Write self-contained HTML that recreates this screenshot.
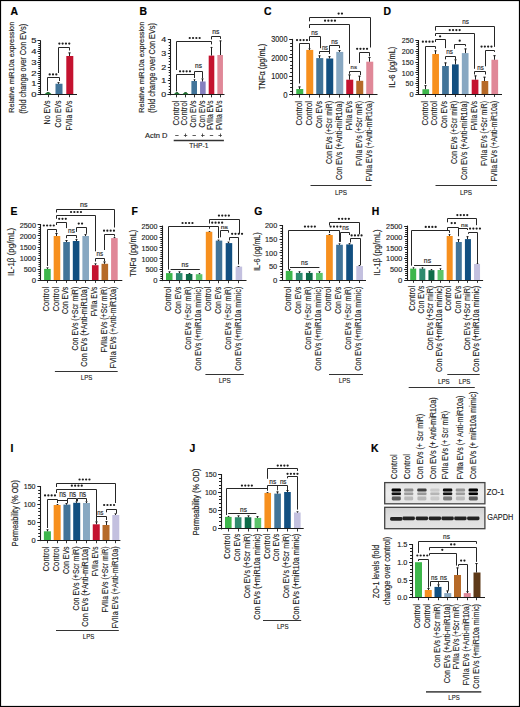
<!DOCTYPE html>
<html><head><meta charset="utf-8"><title>Figure</title>
<style>
html,body{margin:0;padding:0;background:#fff;}
#fig{position:relative;width:520px;height:707px;overflow:hidden;background:#fff;}
svg{position:absolute;left:0;top:0;}
text{font-family:"Liberation Sans",sans-serif;stroke:#1e1e1e;stroke-width:0.15px;paint-order:stroke;}
</style></head><body>
<div id="fig">
<svg width="520" height="707" viewBox="0 0 520 707">
<rect x="0" y="0" width="520" height="707" fill="#fff"/>
<text x="10.4" y="15" font-size="10.4" text-anchor="start" fill="#000" font-weight="bold" style="stroke:#000;stroke-width:0.2px">A</text>
<text transform="translate(13.7 67.3) rotate(-90)" font-size="7.6" text-anchor="middle" fill="#1e1e1e" textLength="91" lengthAdjust="spacingAndGlyphs">Relative miR10a expression</text>
<text transform="translate(25.6 68.8) rotate(-90)" font-size="8.2" text-anchor="middle" fill="#1e1e1e" textLength="89.8" lengthAdjust="spacingAndGlyphs">(fold change over Con EVs)</text>
<line x1="40.5" y1="40.4" x2="40.5" y2="95.1" stroke="#1c1c1c" stroke-width="1.1"/>
<line x1="37.4" y1="94.5" x2="40.6" y2="94.5" stroke="#1c1c1c" stroke-width="1"/>
<text x="36.45" y="97.08" font-size="7.2" text-anchor="end" fill="#1e1e1e" textLength="5.25" lengthAdjust="spacingAndGlyphs">0</text>
<line x1="38.3" y1="92.5" x2="40.6" y2="92.5" stroke="#202020" stroke-width="1"/>
<line x1="38.3" y1="90.5" x2="40.6" y2="90.5" stroke="#202020" stroke-width="1"/>
<line x1="38.3" y1="88.5" x2="40.6" y2="88.5" stroke="#202020" stroke-width="1"/>
<line x1="38.3" y1="86.5" x2="40.6" y2="86.5" stroke="#202020" stroke-width="1"/>
<line x1="37.4" y1="83.5" x2="40.6" y2="83.5" stroke="#1c1c1c" stroke-width="1"/>
<text x="36.45" y="86.36" font-size="7.2" text-anchor="end" fill="#1e1e1e" textLength="5.25" lengthAdjust="spacingAndGlyphs">1</text>
<line x1="38.3" y1="81.5" x2="40.6" y2="81.5" stroke="#202020" stroke-width="1"/>
<line x1="38.3" y1="79.5" x2="40.6" y2="79.5" stroke="#202020" stroke-width="1"/>
<line x1="38.3" y1="77.5" x2="40.6" y2="77.5" stroke="#202020" stroke-width="1"/>
<line x1="38.3" y1="75.5" x2="40.6" y2="75.5" stroke="#202020" stroke-width="1"/>
<line x1="37.4" y1="73.5" x2="40.6" y2="73.5" stroke="#1c1c1c" stroke-width="1"/>
<text x="36.45" y="75.64" font-size="7.2" text-anchor="end" fill="#1e1e1e" textLength="5.25" lengthAdjust="spacingAndGlyphs">2</text>
<line x1="38.3" y1="71.5" x2="40.6" y2="71.5" stroke="#202020" stroke-width="1"/>
<line x1="38.3" y1="68.5" x2="40.6" y2="68.5" stroke="#202020" stroke-width="1"/>
<line x1="38.3" y1="66.5" x2="40.6" y2="66.5" stroke="#202020" stroke-width="1"/>
<line x1="38.3" y1="64.5" x2="40.6" y2="64.5" stroke="#202020" stroke-width="1"/>
<line x1="37.4" y1="62.5" x2="40.6" y2="62.5" stroke="#1c1c1c" stroke-width="1"/>
<text x="36.45" y="64.92" font-size="7.2" text-anchor="end" fill="#1e1e1e" textLength="5.25" lengthAdjust="spacingAndGlyphs">3</text>
<line x1="38.3" y1="60.5" x2="40.6" y2="60.5" stroke="#202020" stroke-width="1"/>
<line x1="38.3" y1="58.5" x2="40.6" y2="58.5" stroke="#202020" stroke-width="1"/>
<line x1="38.3" y1="56.5" x2="40.6" y2="56.5" stroke="#202020" stroke-width="1"/>
<line x1="38.3" y1="53.5" x2="40.6" y2="53.5" stroke="#202020" stroke-width="1"/>
<line x1="37.4" y1="51.5" x2="40.6" y2="51.5" stroke="#1c1c1c" stroke-width="1"/>
<text x="36.45" y="54.2" font-size="7.2" text-anchor="end" fill="#1e1e1e" textLength="5.25" lengthAdjust="spacingAndGlyphs">4</text>
<line x1="38.3" y1="49.5" x2="40.6" y2="49.5" stroke="#202020" stroke-width="1"/>
<line x1="38.3" y1="47.5" x2="40.6" y2="47.5" stroke="#202020" stroke-width="1"/>
<line x1="38.3" y1="45.5" x2="40.6" y2="45.5" stroke="#202020" stroke-width="1"/>
<line x1="38.3" y1="43.5" x2="40.6" y2="43.5" stroke="#202020" stroke-width="1"/>
<line x1="37.4" y1="40.5" x2="40.6" y2="40.5" stroke="#1c1c1c" stroke-width="1"/>
<text x="36.45" y="43.48" font-size="7.2" text-anchor="end" fill="#1e1e1e" textLength="5.25" lengthAdjust="spacingAndGlyphs">5</text>
<rect x="55.5" y="83.75" width="7" height="10.85" fill="#427499"/>
<rect x="66.3" y="56" width="7" height="38.6" fill="#c4122f"/>
<line x1="58.5" y1="82.3" x2="58.5" y2="83.75" stroke="#1e1e1e" stroke-width="1"/>
<path d="M57 82.3H60L58.5 83.55Z" fill="#1e1e1e"/>
<line x1="69.5" y1="52.6" x2="69.5" y2="56" stroke="#1e1e1e" stroke-width="1"/>
<path d="M68 52.6H71L69.5 54.5Z" fill="#1e1e1e"/>
<line x1="38" y1="94.5" x2="77" y2="94.5" stroke="#1c1c1c" stroke-width="1.2"/>
<line x1="48.5" y1="94.6" x2="48.5" y2="97.2" stroke="#1c1c1c" stroke-width="0.9"/>
<line x1="58.5" y1="94.6" x2="58.5" y2="97.2" stroke="#1c1c1c" stroke-width="0.9"/>
<line x1="69.5" y1="94.6" x2="69.5" y2="97.2" stroke="#1c1c1c" stroke-width="0.9"/>
<path d="M44.5 94.2Q46.48 92.11 48.1 92.3 Q49.72 92.11 51.7 94.2Z" fill="#1d7a30"/>
<line x1="46.9" y1="92.5" x2="49.3" y2="92.5" stroke="#1a4a22" stroke-width="0.8"/>
<path d="M47.5 90.9V77.5H59.5V81" fill="none" stroke="#262626" stroke-width="1"/>
<circle cx="49.7" cy="74.4" r="1.12" fill="#1e1e1e"/>
<circle cx="53" cy="74.4" r="1.12" fill="#1e1e1e"/>
<circle cx="56.3" cy="74.4" r="1.12" fill="#1e1e1e"/>
<path d="M58.5 73V47.5H69.5V50.5" fill="none" stroke="#262626" stroke-width="1"/>
<circle cx="59.35" cy="43.6" r="1.12" fill="#1e1e1e"/>
<circle cx="62.65" cy="43.6" r="1.12" fill="#1e1e1e"/>
<circle cx="65.95" cy="43.6" r="1.12" fill="#1e1e1e"/>
<circle cx="69.25" cy="43.6" r="1.12" fill="#1e1e1e"/>
<text transform="translate(49.9 100.6) rotate(-90)" font-size="8.7" text-anchor="end" fill="#1e1e1e" textLength="23.8" lengthAdjust="spacingAndGlyphs">No EVs</text>
<text transform="translate(60.8 100.6) rotate(-90)" font-size="8.7" text-anchor="end" fill="#1e1e1e" textLength="26.9" lengthAdjust="spacingAndGlyphs">Con EVs</text>
<text transform="translate(71.6 100.6) rotate(-90)" font-size="8.7" text-anchor="end" fill="#1e1e1e" textLength="30" lengthAdjust="spacingAndGlyphs">FVIIa EVs</text>
<text x="139.6" y="15" font-size="10.4" text-anchor="start" fill="#000" font-weight="bold" style="stroke:#000;stroke-width:0.2px">B</text>
<text transform="translate(143.7 67.3) rotate(-90)" font-size="7.6" text-anchor="middle" fill="#1e1e1e" textLength="91" lengthAdjust="spacingAndGlyphs">Relative miR10a expression</text>
<text transform="translate(155.4 68) rotate(-90)" font-size="8.2" text-anchor="middle" fill="#1e1e1e" textLength="89.8" lengthAdjust="spacingAndGlyphs">(fold change over Con EVs)</text>
<line x1="170.5" y1="39.6" x2="170.5" y2="95.25" stroke="#1c1c1c" stroke-width="1.1"/>
<line x1="167.8" y1="94.5" x2="171" y2="94.5" stroke="#1c1c1c" stroke-width="1"/>
<text x="166.25" y="97.16" font-size="7" text-anchor="end" fill="#1e1e1e" textLength="4.95" lengthAdjust="spacingAndGlyphs">0</text>
<line x1="168.7" y1="92.5" x2="171" y2="92.5" stroke="#202020" stroke-width="1"/>
<line x1="168.7" y1="89.5" x2="171" y2="89.5" stroke="#202020" stroke-width="1"/>
<line x1="168.7" y1="86.5" x2="171" y2="86.5" stroke="#202020" stroke-width="1"/>
<line x1="168.7" y1="83.5" x2="171" y2="83.5" stroke="#202020" stroke-width="1"/>
<line x1="167.8" y1="80.5" x2="171" y2="80.5" stroke="#1c1c1c" stroke-width="1"/>
<text x="166.25" y="83.41" font-size="7" text-anchor="end" fill="#1e1e1e" textLength="4.95" lengthAdjust="spacingAndGlyphs">1</text>
<line x1="168.7" y1="78.5" x2="171" y2="78.5" stroke="#202020" stroke-width="1"/>
<line x1="168.7" y1="75.5" x2="171" y2="75.5" stroke="#202020" stroke-width="1"/>
<line x1="168.7" y1="72.5" x2="171" y2="72.5" stroke="#202020" stroke-width="1"/>
<line x1="168.7" y1="70.5" x2="171" y2="70.5" stroke="#202020" stroke-width="1"/>
<line x1="167.8" y1="67.5" x2="171" y2="67.5" stroke="#1c1c1c" stroke-width="1"/>
<text x="166.25" y="69.66" font-size="7" text-anchor="end" fill="#1e1e1e" textLength="4.95" lengthAdjust="spacingAndGlyphs">2</text>
<line x1="168.7" y1="64.5" x2="171" y2="64.5" stroke="#202020" stroke-width="1"/>
<line x1="168.7" y1="61.5" x2="171" y2="61.5" stroke="#202020" stroke-width="1"/>
<line x1="168.7" y1="58.5" x2="171" y2="58.5" stroke="#202020" stroke-width="1"/>
<line x1="168.7" y1="56.5" x2="171" y2="56.5" stroke="#202020" stroke-width="1"/>
<line x1="167.8" y1="53.5" x2="171" y2="53.5" stroke="#1c1c1c" stroke-width="1"/>
<text x="166.25" y="55.91" font-size="7" text-anchor="end" fill="#1e1e1e" textLength="4.95" lengthAdjust="spacingAndGlyphs">3</text>
<line x1="168.7" y1="50.5" x2="171" y2="50.5" stroke="#202020" stroke-width="1"/>
<line x1="168.7" y1="48.5" x2="171" y2="48.5" stroke="#202020" stroke-width="1"/>
<line x1="168.7" y1="45.5" x2="171" y2="45.5" stroke="#202020" stroke-width="1"/>
<line x1="168.7" y1="42.5" x2="171" y2="42.5" stroke="#202020" stroke-width="1"/>
<line x1="167.8" y1="39.5" x2="171" y2="39.5" stroke="#1c1c1c" stroke-width="1"/>
<text x="166.25" y="42.16" font-size="7" text-anchor="end" fill="#1e1e1e" textLength="4.95" lengthAdjust="spacingAndGlyphs">4</text>
<rect x="174.1" y="94.75" width="5.6" height="0" fill="#3db64b"/>
<rect x="182.75" y="94.75" width="5.6" height="0" fill="#3db64b"/>
<rect x="191.4" y="81" width="5.6" height="13.75" fill="#427499"/>
<rect x="200.05" y="81.5" width="5.6" height="13.25" fill="#8680bf"/>
<rect x="208.7" y="55.6" width="5.6" height="39.15" fill="#c4122f"/>
<rect x="217.35" y="55" width="5.6" height="39.75" fill="#e08898"/>
<line x1="194.5" y1="79.4" x2="194.5" y2="81" stroke="#1e1e1e" stroke-width="1"/>
<path d="M193.2 79.4H195.8L194.5 80.8Z" fill="#1e1e1e"/>
<line x1="202.5" y1="78.5" x2="202.5" y2="81.5" stroke="#1e1e1e" stroke-width="1"/>
<path d="M201.2 78.5H203.8L202.5 80.4Z" fill="#1e1e1e"/>
<line x1="211.5" y1="46.9" x2="211.5" y2="55.6" stroke="#1e1e1e" stroke-width="1"/>
<path d="M210.2 46.9H212.8L211.5 48.8Z" fill="#1e1e1e"/>
<line x1="220.5" y1="40.6" x2="220.5" y2="55" stroke="#1e1e1e" stroke-width="1"/>
<path d="M219.2 40.6H221.8L220.5 42.5Z" fill="#1e1e1e"/>
<line x1="167.5" y1="94.5" x2="224.5" y2="94.5" stroke="#1c1c1c" stroke-width="1.2"/>
<line x1="176.5" y1="94.75" x2="176.5" y2="97.35" stroke="#1c1c1c" stroke-width="0.9"/>
<line x1="185.5" y1="94.75" x2="185.5" y2="97.35" stroke="#1c1c1c" stroke-width="0.9"/>
<line x1="194.5" y1="94.75" x2="194.5" y2="97.35" stroke="#1c1c1c" stroke-width="0.9"/>
<line x1="202.5" y1="94.75" x2="202.5" y2="97.35" stroke="#1c1c1c" stroke-width="0.9"/>
<line x1="211.5" y1="94.75" x2="211.5" y2="97.35" stroke="#1c1c1c" stroke-width="0.9"/>
<line x1="220.5" y1="94.75" x2="220.5" y2="97.35" stroke="#1c1c1c" stroke-width="0.9"/>
<path d="M173.7 94.35Q175.46 92.26 176.9 92.45 Q178.34 92.26 180.1 94.35Z" fill="#1d7a30"/>
<line x1="175.7" y1="92.5" x2="178.1" y2="92.5" stroke="#1a4a22" stroke-width="0.8"/>
<path d="M182.35 94.35Q184.11 92.26 185.55 92.45 Q186.99 92.26 188.75 94.35Z" fill="#1d7a30"/>
<line x1="184.35" y1="92.5" x2="186.75" y2="92.5" stroke="#1a4a22" stroke-width="0.8"/>
<path d="M176.5 70V41.5H211.5V44.4" fill="none" stroke="#262626" stroke-width="1"/>
<circle cx="189.75" cy="38" r="1.12" fill="#1e1e1e"/>
<circle cx="193.05" cy="38" r="1.12" fill="#1e1e1e"/>
<circle cx="196.35" cy="38" r="1.12" fill="#1e1e1e"/>
<circle cx="199.65" cy="38" r="1.12" fill="#1e1e1e"/>
<path d="M211.5 39.4V36.5H220.5V38.9" fill="none" stroke="#262626" stroke-width="1"/>
<text x="212.3" y="33.6" font-size="7.06" text-anchor="start" fill="#1e1e1e" textLength="7.1" lengthAdjust="spacingAndGlyphs">ns</text>
<path d="M176.5 91.4V74.5H194.5V77.5" fill="none" stroke="#262626" stroke-width="1"/>
<circle cx="180.05" cy="71.3" r="1.12" fill="#1e1e1e"/>
<circle cx="183.35" cy="71.3" r="1.12" fill="#1e1e1e"/>
<circle cx="186.65" cy="71.3" r="1.12" fill="#1e1e1e"/>
<circle cx="189.95" cy="71.3" r="1.12" fill="#1e1e1e"/>
<path d="M194.5 78V71.5H202.5V78" fill="none" stroke="#262626" stroke-width="1"/>
<text x="195" y="68.2" font-size="6.32" text-anchor="start" fill="#1e1e1e" textLength="6.9" lengthAdjust="spacingAndGlyphs">ns</text>
<text transform="translate(178.7 100.6) rotate(-90)" font-size="8.7" text-anchor="end" fill="#1e1e1e" textLength="24.9" lengthAdjust="spacingAndGlyphs">Control</text>
<text transform="translate(187.35 100.6) rotate(-90)" font-size="8.7" text-anchor="end" fill="#1e1e1e" textLength="24.9" lengthAdjust="spacingAndGlyphs">Control</text>
<text transform="translate(196 100.6) rotate(-90)" font-size="8.7" text-anchor="end" fill="#1e1e1e" textLength="26.9" lengthAdjust="spacingAndGlyphs">Con EVs</text>
<text transform="translate(204.65 100.6) rotate(-90)" font-size="8.7" text-anchor="end" fill="#1e1e1e" textLength="26.9" lengthAdjust="spacingAndGlyphs">Con EVs</text>
<text transform="translate(213.3 100.6) rotate(-90)" font-size="8.7" text-anchor="end" fill="#1e1e1e" textLength="29.4" lengthAdjust="spacingAndGlyphs">FVIIa EVs</text>
<text transform="translate(221.95 100.6) rotate(-90)" font-size="8.7" text-anchor="end" fill="#1e1e1e" textLength="29.4" lengthAdjust="spacingAndGlyphs">FVIIa EVs</text>
<text x="145" y="137.6" font-size="7.2" text-anchor="start" fill="#1e1e1e" textLength="22.5" lengthAdjust="spacingAndGlyphs">Actn D</text>
<line x1="175.2" y1="135.5" x2="178.6" y2="135.5" stroke="#333" stroke-width="0.8"/>
<line x1="183.85" y1="135.5" x2="187.25" y2="135.5" stroke="#333" stroke-width="0.8"/>
<line x1="185.5" y1="133.5" x2="185.5" y2="136.9" stroke="#333" stroke-width="0.8"/>
<line x1="192.5" y1="135.5" x2="195.9" y2="135.5" stroke="#333" stroke-width="0.8"/>
<line x1="201.15" y1="135.5" x2="204.55" y2="135.5" stroke="#333" stroke-width="0.8"/>
<line x1="202.5" y1="133.5" x2="202.5" y2="136.9" stroke="#333" stroke-width="0.8"/>
<line x1="209.8" y1="135.5" x2="213.2" y2="135.5" stroke="#333" stroke-width="0.8"/>
<line x1="218.45" y1="135.5" x2="221.85" y2="135.5" stroke="#333" stroke-width="0.8"/>
<line x1="220.5" y1="133.5" x2="220.5" y2="136.9" stroke="#333" stroke-width="0.8"/>
<line x1="173.7" y1="140.5" x2="223.9" y2="140.5" stroke="#333" stroke-width="1.3"/>
<text x="198.8" y="147.9" font-size="7.6" text-anchor="middle" fill="#1e1e1e" textLength="19" lengthAdjust="spacingAndGlyphs">THP-1</text>
<text x="264" y="15.2" font-size="10.4" text-anchor="start" fill="#000" font-weight="bold" style="stroke:#000;stroke-width:0.2px">C</text>
<text transform="translate(264.9 66.9) rotate(-90)" font-size="8.2" text-anchor="middle" fill="#1e1e1e" textLength="46" lengthAdjust="spacingAndGlyphs">TNFα (pg/mL)</text>
<line x1="292.5" y1="38.9" x2="292.5" y2="95.45" stroke="#1c1c1c" stroke-width="1.1"/>
<line x1="289.2" y1="94.5" x2="292.4" y2="94.5" stroke="#1c1c1c" stroke-width="1"/>
<text x="287.45" y="97.91" font-size="8.6" text-anchor="end" fill="#1e1e1e" textLength="4.3" lengthAdjust="spacingAndGlyphs">0</text>
<line x1="290.1" y1="91.5" x2="292.4" y2="91.5" stroke="#202020" stroke-width="1"/>
<line x1="290.1" y1="87.5" x2="292.4" y2="87.5" stroke="#202020" stroke-width="1"/>
<line x1="290.1" y1="83.5" x2="292.4" y2="83.5" stroke="#202020" stroke-width="1"/>
<line x1="290.1" y1="80.5" x2="292.4" y2="80.5" stroke="#202020" stroke-width="1"/>
<line x1="289.2" y1="76.5" x2="292.4" y2="76.5" stroke="#1c1c1c" stroke-width="1"/>
<text x="287.45" y="79.36" font-size="8.6" text-anchor="end" fill="#1e1e1e" textLength="16.15" lengthAdjust="spacingAndGlyphs">1000</text>
<line x1="290.1" y1="72.5" x2="292.4" y2="72.5" stroke="#202020" stroke-width="1"/>
<line x1="290.1" y1="68.5" x2="292.4" y2="68.5" stroke="#202020" stroke-width="1"/>
<line x1="290.1" y1="65.5" x2="292.4" y2="65.5" stroke="#202020" stroke-width="1"/>
<line x1="290.1" y1="61.5" x2="292.4" y2="61.5" stroke="#202020" stroke-width="1"/>
<line x1="289.2" y1="57.5" x2="292.4" y2="57.5" stroke="#1c1c1c" stroke-width="1"/>
<text x="287.45" y="60.81" font-size="8.6" text-anchor="end" fill="#1e1e1e" textLength="16.15" lengthAdjust="spacingAndGlyphs">2000</text>
<line x1="290.1" y1="54.5" x2="292.4" y2="54.5" stroke="#202020" stroke-width="1"/>
<line x1="290.1" y1="50.5" x2="292.4" y2="50.5" stroke="#202020" stroke-width="1"/>
<line x1="290.1" y1="46.5" x2="292.4" y2="46.5" stroke="#202020" stroke-width="1"/>
<line x1="290.1" y1="43.5" x2="292.4" y2="43.5" stroke="#202020" stroke-width="1"/>
<line x1="289.2" y1="39.5" x2="292.4" y2="39.5" stroke="#1c1c1c" stroke-width="1"/>
<text x="287.45" y="42.26" font-size="8.6" text-anchor="end" fill="#1e1e1e" textLength="16.15" lengthAdjust="spacingAndGlyphs">3000</text>
<rect x="296.25" y="89" width="7" height="5.95" fill="#3db64b"/>
<rect x="306.25" y="49.9" width="7" height="45.05" fill="#f7901e"/>
<rect x="316.25" y="58.1" width="7" height="36.85" fill="#427499"/>
<rect x="326.25" y="58.5" width="7" height="36.45" fill="#124f80"/>
<rect x="336.25" y="51.9" width="7" height="43.05" fill="#88a8c2"/>
<rect x="346.25" y="79.7" width="7" height="15.25" fill="#c4122f"/>
<rect x="356.25" y="80.8" width="7" height="14.15" fill="#b66a28"/>
<rect x="366.25" y="61.7" width="7" height="33.25" fill="#e08898"/>
<line x1="299.5" y1="86.5" x2="299.5" y2="89" stroke="#1e1e1e" stroke-width="1"/>
<path d="M298 86.5H301L299.5 88.4Z" fill="#1e1e1e"/>
<line x1="309.5" y1="48.6" x2="309.5" y2="49.9" stroke="#1e1e1e" stroke-width="1"/>
<path d="M308 48.6H311L309.5 49.7Z" fill="#1e1e1e"/>
<line x1="319.5" y1="55.4" x2="319.5" y2="58.1" stroke="#1e1e1e" stroke-width="1"/>
<path d="M318 55.4H321L319.5 57.3Z" fill="#1e1e1e"/>
<line x1="329.5" y1="56.2" x2="329.5" y2="58.5" stroke="#1e1e1e" stroke-width="1"/>
<path d="M328 56.2H331L329.5 58.1Z" fill="#1e1e1e"/>
<line x1="339.5" y1="50" x2="339.5" y2="51.9" stroke="#1e1e1e" stroke-width="1"/>
<path d="M338 50H341L339.5 51.7Z" fill="#1e1e1e"/>
<line x1="349.5" y1="74.6" x2="349.5" y2="79.7" stroke="#1e1e1e" stroke-width="1"/>
<path d="M348 74.6H351L349.5 76.5Z" fill="#1e1e1e"/>
<line x1="359.5" y1="75.8" x2="359.5" y2="80.8" stroke="#1e1e1e" stroke-width="1"/>
<path d="M358 75.8H361L359.5 77.7Z" fill="#1e1e1e"/>
<line x1="369.5" y1="56.9" x2="369.5" y2="61.7" stroke="#1e1e1e" stroke-width="1"/>
<path d="M368 56.9H371L369.5 58.8Z" fill="#1e1e1e"/>
<line x1="290.5" y1="94.5" x2="377.5" y2="94.5" stroke="#1c1c1c" stroke-width="1.2"/>
<line x1="299.5" y1="94.95" x2="299.5" y2="97.55" stroke="#1c1c1c" stroke-width="0.9"/>
<line x1="309.5" y1="94.95" x2="309.5" y2="97.55" stroke="#1c1c1c" stroke-width="0.9"/>
<line x1="319.5" y1="94.95" x2="319.5" y2="97.55" stroke="#1c1c1c" stroke-width="0.9"/>
<line x1="329.5" y1="94.95" x2="329.5" y2="97.55" stroke="#1c1c1c" stroke-width="0.9"/>
<line x1="339.5" y1="94.95" x2="339.5" y2="97.55" stroke="#1c1c1c" stroke-width="0.9"/>
<line x1="349.5" y1="94.95" x2="349.5" y2="97.55" stroke="#1c1c1c" stroke-width="0.9"/>
<line x1="359.5" y1="94.95" x2="359.5" y2="97.55" stroke="#1c1c1c" stroke-width="0.9"/>
<line x1="369.5" y1="94.95" x2="369.5" y2="97.55" stroke="#1c1c1c" stroke-width="0.9"/>
<path d="M309.5 21.3V17.5H370.5V47.5" fill="none" stroke="#262626" stroke-width="1"/>
<circle cx="338.65" cy="13.6" r="1.12" fill="#1e1e1e"/>
<circle cx="341.95" cy="13.6" r="1.12" fill="#1e1e1e"/>
<path d="M309.5 28V24.5H349.5V63.8" fill="none" stroke="#262626" stroke-width="1"/>
<circle cx="325.05" cy="20.7" r="1.12" fill="#1e1e1e"/>
<circle cx="328.35" cy="20.7" r="1.12" fill="#1e1e1e"/>
<circle cx="331.65" cy="20.7" r="1.12" fill="#1e1e1e"/>
<circle cx="334.95" cy="20.7" r="1.12" fill="#1e1e1e"/>
<path d="M309.5 41V36.5H320.5V48.2" fill="none" stroke="#262626" stroke-width="1"/>
<text x="311.3" y="34.7" font-size="7.62" text-anchor="start" fill="#1e1e1e" textLength="6.7" lengthAdjust="spacingAndGlyphs">ns</text>
<path d="M299.5 83.5V43.5H309.5V48.7" fill="none" stroke="#262626" stroke-width="1"/>
<circle cx="297.05" cy="40.1" r="1.12" fill="#1e1e1e"/>
<circle cx="300.35" cy="40.1" r="1.12" fill="#1e1e1e"/>
<circle cx="303.65" cy="40.1" r="1.12" fill="#1e1e1e"/>
<circle cx="306.95" cy="40.1" r="1.12" fill="#1e1e1e"/>
<path d="M319.5 54V51.5H329.5V54" fill="none" stroke="#262626" stroke-width="1"/>
<text x="321.9" y="49.7" font-size="7.62" text-anchor="start" fill="#1e1e1e" textLength="6.1" lengthAdjust="spacingAndGlyphs">ns</text>
<path d="M329.5 51.9V45.5H339.5V48.2" fill="none" stroke="#262626" stroke-width="1"/>
<text x="331.3" y="43.8" font-size="7.06" text-anchor="start" fill="#1e1e1e" textLength="6.7" lengthAdjust="spacingAndGlyphs">ns</text>
<path d="M359.5 63V52.5H369.5V56.3" fill="none" stroke="#262626" stroke-width="1"/>
<circle cx="357.15" cy="48.8" r="1.12" fill="#1e1e1e"/>
<circle cx="360.45" cy="48.8" r="1.12" fill="#1e1e1e"/>
<circle cx="363.75" cy="48.8" r="1.12" fill="#1e1e1e"/>
<circle cx="367.05" cy="48.8" r="1.12" fill="#1e1e1e"/>
<path d="M349.5 73.8V71.5H360.5V75" fill="none" stroke="#262626" stroke-width="1"/>
<text x="350.6" y="68.6" font-size="6.13" text-anchor="start" fill="#1e1e1e" textLength="6.3" lengthAdjust="spacingAndGlyphs">ns</text>
<text transform="translate(301.55 101) rotate(-90)" font-size="8.7" text-anchor="end" fill="#1e1e1e" textLength="24.6" lengthAdjust="spacingAndGlyphs">Control</text>
<text transform="translate(311.55 101) rotate(-90)" font-size="8.7" text-anchor="end" fill="#1e1e1e" textLength="24.6" lengthAdjust="spacingAndGlyphs">Control</text>
<text transform="translate(321.55 101) rotate(-90)" font-size="8.7" text-anchor="end" fill="#1e1e1e" textLength="27" lengthAdjust="spacingAndGlyphs">Con EVs</text>
<text transform="translate(331.55 101) rotate(-90)" font-size="8.7" text-anchor="end" fill="#1e1e1e" textLength="63" lengthAdjust="spacingAndGlyphs">Con EVs (+Scr miR)</text>
<text transform="translate(341.55 101) rotate(-90)" font-size="8.7" text-anchor="end" fill="#1e1e1e" textLength="79" lengthAdjust="spacingAndGlyphs">Con EVs (+Anti-miR10a)</text>
<text transform="translate(351.55 101) rotate(-90)" font-size="8.7" text-anchor="end" fill="#1e1e1e" textLength="29.2" lengthAdjust="spacingAndGlyphs">FVIIa EVs</text>
<text transform="translate(361.55 101) rotate(-90)" font-size="8.7" text-anchor="end" fill="#1e1e1e" textLength="65" lengthAdjust="spacingAndGlyphs">FVIIa EVs (+Scr miR)</text>
<text transform="translate(371.55 101) rotate(-90)" font-size="8.7" text-anchor="end" fill="#1e1e1e" textLength="80.5" lengthAdjust="spacingAndGlyphs">FVIIa EVs (+Anti-miR10a)</text>
<line x1="310.5" y1="185.5" x2="371.5" y2="185.5" stroke="#333" stroke-width="1"/>
<text x="341" y="194.6" font-size="7.8" text-anchor="middle" fill="#1e1e1e" textLength="12" lengthAdjust="spacingAndGlyphs">LPS</text>
<text x="383.6" y="15" font-size="10.4" text-anchor="start" fill="#000" font-weight="bold" style="stroke:#000;stroke-width:0.2px">D</text>
<text transform="translate(395 67.15) rotate(-90)" font-size="8.4" text-anchor="middle" fill="#1e1e1e" textLength="41" lengthAdjust="spacingAndGlyphs">IL-6 (pg/mL)</text>
<line x1="418.5" y1="40" x2="418.5" y2="94.8" stroke="#1c1c1c" stroke-width="1.1"/>
<line x1="415.4" y1="94.5" x2="418.6" y2="94.5" stroke="#1c1c1c" stroke-width="1"/>
<text x="413.55" y="97.02" font-size="7.9" text-anchor="end" fill="#1e1e1e" textLength="4.15" lengthAdjust="spacingAndGlyphs">0</text>
<line x1="416.3" y1="92.5" x2="418.6" y2="92.5" stroke="#202020" stroke-width="1"/>
<line x1="416.3" y1="90.5" x2="418.6" y2="90.5" stroke="#202020" stroke-width="1"/>
<line x1="416.3" y1="87.5" x2="418.6" y2="87.5" stroke="#202020" stroke-width="1"/>
<line x1="416.3" y1="85.5" x2="418.6" y2="85.5" stroke="#202020" stroke-width="1"/>
<line x1="415.4" y1="83.5" x2="418.6" y2="83.5" stroke="#1c1c1c" stroke-width="1"/>
<text x="413.55" y="86.27" font-size="7.9" text-anchor="end" fill="#1e1e1e" textLength="7.95" lengthAdjust="spacingAndGlyphs">50</text>
<line x1="416.3" y1="81.5" x2="418.6" y2="81.5" stroke="#202020" stroke-width="1"/>
<line x1="416.3" y1="79.5" x2="418.6" y2="79.5" stroke="#202020" stroke-width="1"/>
<line x1="416.3" y1="77.5" x2="418.6" y2="77.5" stroke="#202020" stroke-width="1"/>
<line x1="416.3" y1="74.5" x2="418.6" y2="74.5" stroke="#202020" stroke-width="1"/>
<line x1="415.4" y1="72.5" x2="418.6" y2="72.5" stroke="#1c1c1c" stroke-width="1"/>
<text x="413.55" y="75.52" font-size="7.9" text-anchor="end" fill="#1e1e1e" textLength="11.75" lengthAdjust="spacingAndGlyphs">100</text>
<line x1="416.3" y1="70.5" x2="418.6" y2="70.5" stroke="#202020" stroke-width="1"/>
<line x1="416.3" y1="68.5" x2="418.6" y2="68.5" stroke="#202020" stroke-width="1"/>
<line x1="416.3" y1="66.5" x2="418.6" y2="66.5" stroke="#202020" stroke-width="1"/>
<line x1="416.3" y1="64.5" x2="418.6" y2="64.5" stroke="#202020" stroke-width="1"/>
<line x1="415.4" y1="62.5" x2="418.6" y2="62.5" stroke="#1c1c1c" stroke-width="1"/>
<text x="413.55" y="64.77" font-size="7.9" text-anchor="end" fill="#1e1e1e" textLength="11.75" lengthAdjust="spacingAndGlyphs">150</text>
<line x1="416.3" y1="59.5" x2="418.6" y2="59.5" stroke="#202020" stroke-width="1"/>
<line x1="416.3" y1="57.5" x2="418.6" y2="57.5" stroke="#202020" stroke-width="1"/>
<line x1="416.3" y1="55.5" x2="418.6" y2="55.5" stroke="#202020" stroke-width="1"/>
<line x1="416.3" y1="53.5" x2="418.6" y2="53.5" stroke="#202020" stroke-width="1"/>
<line x1="415.4" y1="51.5" x2="418.6" y2="51.5" stroke="#1c1c1c" stroke-width="1"/>
<text x="413.55" y="54.02" font-size="7.9" text-anchor="end" fill="#1e1e1e" textLength="11.75" lengthAdjust="spacingAndGlyphs">200</text>
<line x1="416.3" y1="49.5" x2="418.6" y2="49.5" stroke="#202020" stroke-width="1"/>
<line x1="416.3" y1="46.5" x2="418.6" y2="46.5" stroke="#202020" stroke-width="1"/>
<line x1="416.3" y1="44.5" x2="418.6" y2="44.5" stroke="#202020" stroke-width="1"/>
<line x1="416.3" y1="42.5" x2="418.6" y2="42.5" stroke="#202020" stroke-width="1"/>
<line x1="415.4" y1="40.5" x2="418.6" y2="40.5" stroke="#1c1c1c" stroke-width="1"/>
<text x="413.55" y="43.27" font-size="7.9" text-anchor="end" fill="#1e1e1e" textLength="11.75" lengthAdjust="spacingAndGlyphs">250</text>
<rect x="422.4" y="89.25" width="6.7" height="5.05" fill="#3db64b"/>
<rect x="432.26" y="54" width="6.7" height="40.3" fill="#f7901e"/>
<rect x="442.12" y="66" width="6.7" height="28.3" fill="#427499"/>
<rect x="451.98" y="64.4" width="6.7" height="29.9" fill="#124f80"/>
<rect x="461.84" y="53.1" width="6.7" height="41.2" fill="#88a8c2"/>
<rect x="471.7" y="79.7" width="6.7" height="14.6" fill="#c4122f"/>
<rect x="481.56" y="81" width="6.7" height="13.3" fill="#b66a28"/>
<rect x="491.42" y="59.75" width="6.7" height="34.55" fill="#e08898"/>
<line x1="425.5" y1="85.2" x2="425.5" y2="89.25" stroke="#1e1e1e" stroke-width="1"/>
<path d="M424 85.2H427L425.5 87.1Z" fill="#1e1e1e"/>
<line x1="435.5" y1="50.4" x2="435.5" y2="54" stroke="#1e1e1e" stroke-width="1"/>
<path d="M434 50.4H437L435.5 52.3Z" fill="#1e1e1e"/>
<line x1="445.5" y1="62.5" x2="445.5" y2="66" stroke="#1e1e1e" stroke-width="1"/>
<path d="M444 62.5H447L445.5 64.4Z" fill="#1e1e1e"/>
<line x1="455.5" y1="59.4" x2="455.5" y2="64.4" stroke="#1e1e1e" stroke-width="1"/>
<path d="M454 59.4H457L455.5 61.3Z" fill="#1e1e1e"/>
<line x1="465.5" y1="48.5" x2="465.5" y2="53.1" stroke="#1e1e1e" stroke-width="1"/>
<path d="M464 48.5H467L465.5 50.4Z" fill="#1e1e1e"/>
<line x1="475.5" y1="75.5" x2="475.5" y2="79.7" stroke="#1e1e1e" stroke-width="1"/>
<path d="M474 75.5H477L475.5 77.4Z" fill="#1e1e1e"/>
<line x1="484.5" y1="76.8" x2="484.5" y2="81" stroke="#1e1e1e" stroke-width="1"/>
<path d="M483 76.8H486L484.5 78.7Z" fill="#1e1e1e"/>
<line x1="494.5" y1="55.25" x2="494.5" y2="59.75" stroke="#1e1e1e" stroke-width="1"/>
<path d="M493 55.25H496L494.5 57.15Z" fill="#1e1e1e"/>
<line x1="417" y1="94.5" x2="502" y2="94.5" stroke="#1c1c1c" stroke-width="1.2"/>
<line x1="425.5" y1="94.3" x2="425.5" y2="96.9" stroke="#1c1c1c" stroke-width="0.9"/>
<line x1="435.5" y1="94.3" x2="435.5" y2="96.9" stroke="#1c1c1c" stroke-width="0.9"/>
<line x1="445.5" y1="94.3" x2="445.5" y2="96.9" stroke="#1c1c1c" stroke-width="0.9"/>
<line x1="455.5" y1="94.3" x2="455.5" y2="96.9" stroke="#1c1c1c" stroke-width="0.9"/>
<line x1="465.5" y1="94.3" x2="465.5" y2="96.9" stroke="#1c1c1c" stroke-width="0.9"/>
<line x1="475.5" y1="94.3" x2="475.5" y2="96.9" stroke="#1c1c1c" stroke-width="0.9"/>
<line x1="484.5" y1="94.3" x2="484.5" y2="96.9" stroke="#1c1c1c" stroke-width="0.9"/>
<line x1="494.5" y1="94.3" x2="494.5" y2="96.9" stroke="#1c1c1c" stroke-width="0.9"/>
<path d="M435.5 30.6V26.5H494.5V46.9" fill="none" stroke="#262626" stroke-width="1"/>
<text x="462.3" y="24.4" font-size="7.62" text-anchor="start" fill="#1e1e1e" textLength="6.7" lengthAdjust="spacingAndGlyphs">ns</text>
<path d="M435.5 36V33.5H474.5V68.8" fill="none" stroke="#262626" stroke-width="1"/>
<circle cx="449.75" cy="30.1" r="1.12" fill="#1e1e1e"/>
<circle cx="453.05" cy="30.1" r="1.12" fill="#1e1e1e"/>
<circle cx="456.35" cy="30.1" r="1.12" fill="#1e1e1e"/>
<circle cx="459.65" cy="30.1" r="1.12" fill="#1e1e1e"/>
<path d="M435.5 42V39.5H445.5V48.1" fill="none" stroke="#262626" stroke-width="1"/>
<circle cx="440.1" cy="36.3" r="1.12" fill="#1e1e1e"/>
<path d="M425.5 84V46.5H435.5V48.8" fill="none" stroke="#262626" stroke-width="1"/>
<circle cx="422.85" cy="41.7" r="1.12" fill="#1e1e1e"/>
<circle cx="426.15" cy="41.7" r="1.12" fill="#1e1e1e"/>
<circle cx="429.45" cy="41.7" r="1.12" fill="#1e1e1e"/>
<circle cx="432.75" cy="41.7" r="1.12" fill="#1e1e1e"/>
<path d="M445.5 59.4V56.5H455.5V59.4" fill="none" stroke="#262626" stroke-width="1"/>
<text x="446.3" y="53.8" font-size="7.06" text-anchor="start" fill="#1e1e1e" textLength="6.7" lengthAdjust="spacingAndGlyphs">ns</text>
<path d="M454.5 48.8V44.5H465.5V46.3" fill="none" stroke="#262626" stroke-width="1"/>
<circle cx="459.7" cy="40.7" r="1.12" fill="#1e1e1e"/>
<path d="M485.5 66.3V50.5H494.5V51.9" fill="none" stroke="#262626" stroke-width="1"/>
<circle cx="481.55" cy="46.6" r="1.12" fill="#1e1e1e"/>
<circle cx="484.85" cy="46.6" r="1.12" fill="#1e1e1e"/>
<circle cx="488.15" cy="46.6" r="1.12" fill="#1e1e1e"/>
<circle cx="491.45" cy="46.6" r="1.12" fill="#1e1e1e"/>
<path d="M474.5 74.5V71.5H485.5V74.5" fill="none" stroke="#262626" stroke-width="1"/>
<text x="477.3" y="69.8" font-size="6.51" text-anchor="start" fill="#1e1e1e" textLength="6.5" lengthAdjust="spacingAndGlyphs">ns</text>
<text transform="translate(427.55 101) rotate(-90)" font-size="8.7" text-anchor="end" fill="#1e1e1e" textLength="24.6" lengthAdjust="spacingAndGlyphs">Control</text>
<text transform="translate(437.41 101) rotate(-90)" font-size="8.7" text-anchor="end" fill="#1e1e1e" textLength="24.6" lengthAdjust="spacingAndGlyphs">Control</text>
<text transform="translate(447.27 101) rotate(-90)" font-size="8.7" text-anchor="end" fill="#1e1e1e" textLength="27" lengthAdjust="spacingAndGlyphs">Con EVs</text>
<text transform="translate(457.13 101) rotate(-90)" font-size="8.7" text-anchor="end" fill="#1e1e1e" textLength="63" lengthAdjust="spacingAndGlyphs">Con EVs (+Scr miR)</text>
<text transform="translate(466.99 101) rotate(-90)" font-size="8.7" text-anchor="end" fill="#1e1e1e" textLength="79" lengthAdjust="spacingAndGlyphs">Con EVs (+Anti-miR10a)</text>
<text transform="translate(476.85 101) rotate(-90)" font-size="8.7" text-anchor="end" fill="#1e1e1e" textLength="29.2" lengthAdjust="spacingAndGlyphs">FVIIa EVs</text>
<text transform="translate(486.71 101) rotate(-90)" font-size="8.7" text-anchor="end" fill="#1e1e1e" textLength="65" lengthAdjust="spacingAndGlyphs">FVIIa EVs (+Scr miR)</text>
<text transform="translate(496.57 101) rotate(-90)" font-size="8.7" text-anchor="end" fill="#1e1e1e" textLength="80.5" lengthAdjust="spacingAndGlyphs">FVIIa EVs (+Anti-miR10a)</text>
<line x1="435.5" y1="185.5" x2="497" y2="185.5" stroke="#333" stroke-width="1"/>
<text x="466" y="194.6" font-size="7.8" text-anchor="middle" fill="#1e1e1e" textLength="12" lengthAdjust="spacingAndGlyphs">LPS</text>
<text x="10.6" y="214.8" font-size="10.4" text-anchor="start" fill="#000" font-weight="bold" style="stroke:#000;stroke-width:0.2px">E</text>
<text transform="translate(14.1 251.9) rotate(-90)" font-size="8.4" text-anchor="middle" fill="#1e1e1e" textLength="48" lengthAdjust="spacingAndGlyphs">IL-1β (pg/mL)</text>
<line x1="40.5" y1="224" x2="40.5" y2="280.8" stroke="#1c1c1c" stroke-width="1.1"/>
<line x1="37.6" y1="280.5" x2="40.8" y2="280.5" stroke="#1c1c1c" stroke-width="1"/>
<text x="35.95" y="283.05" font-size="8" text-anchor="end" fill="#1e1e1e" textLength="4.3" lengthAdjust="spacingAndGlyphs">0</text>
<line x1="38.5" y1="278.5" x2="40.8" y2="278.5" stroke="#202020" stroke-width="1"/>
<line x1="38.5" y1="275.5" x2="40.8" y2="275.5" stroke="#202020" stroke-width="1"/>
<line x1="38.5" y1="273.5" x2="40.8" y2="273.5" stroke="#202020" stroke-width="1"/>
<line x1="38.5" y1="271.5" x2="40.8" y2="271.5" stroke="#202020" stroke-width="1"/>
<line x1="37.6" y1="269.5" x2="40.8" y2="269.5" stroke="#1c1c1c" stroke-width="1"/>
<text x="35.95" y="271.96" font-size="8" text-anchor="end" fill="#1e1e1e" textLength="12.2" lengthAdjust="spacingAndGlyphs">500</text>
<line x1="38.5" y1="266.5" x2="40.8" y2="266.5" stroke="#202020" stroke-width="1"/>
<line x1="38.5" y1="264.5" x2="40.8" y2="264.5" stroke="#202020" stroke-width="1"/>
<line x1="38.5" y1="262.5" x2="40.8" y2="262.5" stroke="#202020" stroke-width="1"/>
<line x1="38.5" y1="260.5" x2="40.8" y2="260.5" stroke="#202020" stroke-width="1"/>
<line x1="37.6" y1="258.5" x2="40.8" y2="258.5" stroke="#1c1c1c" stroke-width="1"/>
<text x="35.95" y="260.87" font-size="8" text-anchor="end" fill="#1e1e1e" textLength="16.15" lengthAdjust="spacingAndGlyphs">1000</text>
<line x1="38.5" y1="255.5" x2="40.8" y2="255.5" stroke="#202020" stroke-width="1"/>
<line x1="38.5" y1="253.5" x2="40.8" y2="253.5" stroke="#202020" stroke-width="1"/>
<line x1="38.5" y1="251.5" x2="40.8" y2="251.5" stroke="#202020" stroke-width="1"/>
<line x1="38.5" y1="249.5" x2="40.8" y2="249.5" stroke="#202020" stroke-width="1"/>
<line x1="37.6" y1="247.5" x2="40.8" y2="247.5" stroke="#1c1c1c" stroke-width="1"/>
<text x="35.95" y="249.78" font-size="8" text-anchor="end" fill="#1e1e1e" textLength="16.15" lengthAdjust="spacingAndGlyphs">1500</text>
<line x1="38.5" y1="244.5" x2="40.8" y2="244.5" stroke="#202020" stroke-width="1"/>
<line x1="38.5" y1="242.5" x2="40.8" y2="242.5" stroke="#202020" stroke-width="1"/>
<line x1="38.5" y1="240.5" x2="40.8" y2="240.5" stroke="#202020" stroke-width="1"/>
<line x1="38.5" y1="238.5" x2="40.8" y2="238.5" stroke="#202020" stroke-width="1"/>
<line x1="37.6" y1="235.5" x2="40.8" y2="235.5" stroke="#1c1c1c" stroke-width="1"/>
<text x="35.95" y="238.69" font-size="8" text-anchor="end" fill="#1e1e1e" textLength="16.15" lengthAdjust="spacingAndGlyphs">2000</text>
<line x1="38.5" y1="233.5" x2="40.8" y2="233.5" stroke="#202020" stroke-width="1"/>
<line x1="38.5" y1="231.5" x2="40.8" y2="231.5" stroke="#202020" stroke-width="1"/>
<line x1="38.5" y1="229.5" x2="40.8" y2="229.5" stroke="#202020" stroke-width="1"/>
<line x1="38.5" y1="227.5" x2="40.8" y2="227.5" stroke="#202020" stroke-width="1"/>
<line x1="37.6" y1="224.5" x2="40.8" y2="224.5" stroke="#1c1c1c" stroke-width="1"/>
<text x="35.95" y="227.6" font-size="8" text-anchor="end" fill="#1e1e1e" textLength="16.15" lengthAdjust="spacingAndGlyphs">2500</text>
<rect x="44.1" y="268.9" width="6.6" height="11.4" fill="#3db64b"/>
<rect x="53.67" y="236" width="6.6" height="44.3" fill="#f7901e"/>
<rect x="63.24" y="242" width="6.6" height="38.3" fill="#427499"/>
<rect x="72.81" y="241" width="6.6" height="39.3" fill="#124f80"/>
<rect x="82.38" y="236" width="6.6" height="44.3" fill="#88a8c2"/>
<rect x="91.95" y="265.2" width="6.6" height="15.1" fill="#c4122f"/>
<rect x="101.52" y="263.8" width="6.6" height="16.5" fill="#b66a28"/>
<rect x="111.09" y="238.1" width="6.6" height="42.2" fill="#e08898"/>
<line x1="47.5" y1="267.6" x2="47.5" y2="268.9" stroke="#1e1e1e" stroke-width="1"/>
<path d="M46 267.6H49L47.5 268.7Z" fill="#1e1e1e"/>
<line x1="56.5" y1="233.1" x2="56.5" y2="236" stroke="#1e1e1e" stroke-width="1"/>
<path d="M55 233.1H58L56.5 235Z" fill="#1e1e1e"/>
<line x1="66.5" y1="240" x2="66.5" y2="242" stroke="#1e1e1e" stroke-width="1"/>
<path d="M65 240H68L66.5 241.8Z" fill="#1e1e1e"/>
<line x1="76.5" y1="239.2" x2="76.5" y2="241" stroke="#1e1e1e" stroke-width="1"/>
<path d="M75 239.2H78L76.5 240.8Z" fill="#1e1e1e"/>
<line x1="85.5" y1="234.2" x2="85.5" y2="236" stroke="#1e1e1e" stroke-width="1"/>
<path d="M84 234.2H87L85.5 235.8Z" fill="#1e1e1e"/>
<line x1="95.5" y1="263.6" x2="95.5" y2="265.2" stroke="#1e1e1e" stroke-width="1"/>
<path d="M94 263.6H97L95.5 265Z" fill="#1e1e1e"/>
<line x1="104.5" y1="261.6" x2="104.5" y2="263.8" stroke="#1e1e1e" stroke-width="1"/>
<path d="M103 261.6H106L104.5 263.5Z" fill="#1e1e1e"/>
<line x1="114.5" y1="237" x2="114.5" y2="238.1" stroke="#1e1e1e" stroke-width="1"/>
<path d="M113 237H116L114.5 237.9Z" fill="#1e1e1e"/>
<line x1="39" y1="280.5" x2="122.3" y2="280.5" stroke="#1c1c1c" stroke-width="1.2"/>
<line x1="47.5" y1="280.3" x2="47.5" y2="282.9" stroke="#1c1c1c" stroke-width="0.9"/>
<line x1="56.5" y1="280.3" x2="56.5" y2="282.9" stroke="#1c1c1c" stroke-width="0.9"/>
<line x1="66.5" y1="280.3" x2="66.5" y2="282.9" stroke="#1c1c1c" stroke-width="0.9"/>
<line x1="76.5" y1="280.3" x2="76.5" y2="282.9" stroke="#1c1c1c" stroke-width="0.9"/>
<line x1="85.5" y1="280.3" x2="85.5" y2="282.9" stroke="#1c1c1c" stroke-width="0.9"/>
<line x1="95.5" y1="280.3" x2="95.5" y2="282.9" stroke="#1c1c1c" stroke-width="0.9"/>
<line x1="104.5" y1="280.3" x2="104.5" y2="282.9" stroke="#1c1c1c" stroke-width="0.9"/>
<line x1="114.5" y1="280.3" x2="114.5" y2="282.9" stroke="#1c1c1c" stroke-width="0.9"/>
<path d="M56.5 212.5V209.5H114.5V227.5" fill="none" stroke="#262626" stroke-width="1"/>
<text x="80" y="207.3" font-size="7.06" text-anchor="start" fill="#1e1e1e" textLength="7.5" lengthAdjust="spacingAndGlyphs">ns</text>
<path d="M56.5 218.8V215.5H95.5V251.3" fill="none" stroke="#262626" stroke-width="1"/>
<circle cx="71.05" cy="212" r="1.12" fill="#1e1e1e"/>
<circle cx="74.35" cy="212" r="1.12" fill="#1e1e1e"/>
<circle cx="77.65" cy="212" r="1.12" fill="#1e1e1e"/>
<circle cx="80.95" cy="212" r="1.12" fill="#1e1e1e"/>
<path d="M56.5 225V222.5H66.5V228.1" fill="none" stroke="#262626" stroke-width="1"/>
<circle cx="59.2" cy="218.8" r="1.12" fill="#1e1e1e"/>
<circle cx="62.5" cy="218.8" r="1.12" fill="#1e1e1e"/>
<circle cx="65.8" cy="218.8" r="1.12" fill="#1e1e1e"/>
<path d="M47.5 266V229.5H56.5V232.5" fill="none" stroke="#262626" stroke-width="1"/>
<circle cx="43.85" cy="225.5" r="1.12" fill="#1e1e1e"/>
<circle cx="47.15" cy="225.5" r="1.12" fill="#1e1e1e"/>
<circle cx="50.45" cy="225.5" r="1.12" fill="#1e1e1e"/>
<circle cx="53.75" cy="225.5" r="1.12" fill="#1e1e1e"/>
<path d="M66.5 238.2V235.5H76.5V238.2" fill="none" stroke="#262626" stroke-width="1"/>
<text x="68.1" y="232.6" font-size="6.69" text-anchor="start" fill="#1e1e1e" textLength="6.9" lengthAdjust="spacingAndGlyphs">ns</text>
<path d="M76.5 231.9V227.5H86.5V233.8" fill="none" stroke="#262626" stroke-width="1"/>
<circle cx="78.75" cy="223.6" r="1.12" fill="#1e1e1e"/>
<circle cx="82.05" cy="223.6" r="1.12" fill="#1e1e1e"/>
<path d="M104.5 250V234.5H114.5V236.5" fill="none" stroke="#262626" stroke-width="1"/>
<circle cx="104.05" cy="230.7" r="1.12" fill="#1e1e1e"/>
<circle cx="107.35" cy="230.7" r="1.12" fill="#1e1e1e"/>
<circle cx="110.65" cy="230.7" r="1.12" fill="#1e1e1e"/>
<circle cx="113.95" cy="230.7" r="1.12" fill="#1e1e1e"/>
<path d="M95.5 261.5V258.5H104.5V261" fill="none" stroke="#262626" stroke-width="1"/>
<text x="96.5" y="256.3" font-size="7.43" text-anchor="start" fill="#1e1e1e" textLength="6.6" lengthAdjust="spacingAndGlyphs">ns</text>
<text transform="translate(49.2 286.7) rotate(-90)" font-size="8.7" text-anchor="end" fill="#1e1e1e" textLength="24.9" lengthAdjust="spacingAndGlyphs">Control</text>
<text transform="translate(58.77 286.7) rotate(-90)" font-size="8.7" text-anchor="end" fill="#1e1e1e" textLength="24.9" lengthAdjust="spacingAndGlyphs">Control</text>
<text transform="translate(68.34 286.7) rotate(-90)" font-size="8.7" text-anchor="end" fill="#1e1e1e" textLength="27.32" lengthAdjust="spacingAndGlyphs">Con EVs</text>
<text transform="translate(77.91 286.7) rotate(-90)" font-size="8.7" text-anchor="end" fill="#1e1e1e" textLength="63.76" lengthAdjust="spacingAndGlyphs">Con EVs (+Scr miR)</text>
<text transform="translate(87.48 286.7) rotate(-90)" font-size="8.7" text-anchor="end" fill="#1e1e1e" textLength="79.95" lengthAdjust="spacingAndGlyphs">Con EVs (+Anti-miR10a)</text>
<text transform="translate(97.05 286.7) rotate(-90)" font-size="8.7" text-anchor="end" fill="#1e1e1e" textLength="29.55" lengthAdjust="spacingAndGlyphs">FVIIa EVs</text>
<text transform="translate(106.62 286.7) rotate(-90)" font-size="8.7" text-anchor="end" fill="#1e1e1e" textLength="65.78" lengthAdjust="spacingAndGlyphs">FVIIa EVs (+Scr miR)</text>
<text transform="translate(116.19 286.7) rotate(-90)" font-size="8.7" text-anchor="end" fill="#1e1e1e" textLength="81.47" lengthAdjust="spacingAndGlyphs">FVIIa EVs (+Anti-miR10a)</text>
<line x1="54.9" y1="371.5" x2="117.7" y2="371.5" stroke="#333" stroke-width="1"/>
<text x="86.5" y="380" font-size="7.8" text-anchor="middle" fill="#1e1e1e" textLength="11.5" lengthAdjust="spacingAndGlyphs">LPS</text>
<text x="131.6" y="214.8" font-size="10.4" text-anchor="start" fill="#000" font-weight="bold" style="stroke:#000;stroke-width:0.2px">F</text>
<text transform="translate(135.6 253.15) rotate(-90)" font-size="8.2" text-anchor="middle" fill="#1e1e1e" textLength="47" lengthAdjust="spacingAndGlyphs">TNFα (pg/mL)</text>
<line x1="162.5" y1="225.6" x2="162.5" y2="281.1" stroke="#1c1c1c" stroke-width="1.1"/>
<line x1="159.5" y1="280.5" x2="162.7" y2="280.5" stroke="#1c1c1c" stroke-width="1"/>
<text x="157.45" y="283.35" font-size="8" text-anchor="end" fill="#1e1e1e" textLength="4.25" lengthAdjust="spacingAndGlyphs">0</text>
<line x1="160.4" y1="278.5" x2="162.7" y2="278.5" stroke="#202020" stroke-width="1"/>
<line x1="160.4" y1="276.5" x2="162.7" y2="276.5" stroke="#202020" stroke-width="1"/>
<line x1="160.4" y1="274.5" x2="162.7" y2="274.5" stroke="#202020" stroke-width="1"/>
<line x1="160.4" y1="271.5" x2="162.7" y2="271.5" stroke="#202020" stroke-width="1"/>
<line x1="159.5" y1="269.5" x2="162.7" y2="269.5" stroke="#1c1c1c" stroke-width="1"/>
<text x="157.45" y="272.48" font-size="8" text-anchor="end" fill="#1e1e1e" textLength="12.05" lengthAdjust="spacingAndGlyphs">500</text>
<line x1="160.4" y1="267.5" x2="162.7" y2="267.5" stroke="#202020" stroke-width="1"/>
<line x1="160.4" y1="265.5" x2="162.7" y2="265.5" stroke="#202020" stroke-width="1"/>
<line x1="160.4" y1="263.5" x2="162.7" y2="263.5" stroke="#202020" stroke-width="1"/>
<line x1="160.4" y1="261.5" x2="162.7" y2="261.5" stroke="#202020" stroke-width="1"/>
<line x1="159.5" y1="258.5" x2="162.7" y2="258.5" stroke="#1c1c1c" stroke-width="1"/>
<text x="157.45" y="261.61" font-size="8" text-anchor="end" fill="#1e1e1e" textLength="15.95" lengthAdjust="spacingAndGlyphs">1000</text>
<line x1="160.4" y1="256.5" x2="162.7" y2="256.5" stroke="#202020" stroke-width="1"/>
<line x1="160.4" y1="254.5" x2="162.7" y2="254.5" stroke="#202020" stroke-width="1"/>
<line x1="160.4" y1="252.5" x2="162.7" y2="252.5" stroke="#202020" stroke-width="1"/>
<line x1="160.4" y1="250.5" x2="162.7" y2="250.5" stroke="#202020" stroke-width="1"/>
<line x1="159.5" y1="247.5" x2="162.7" y2="247.5" stroke="#1c1c1c" stroke-width="1"/>
<text x="157.45" y="250.74" font-size="8" text-anchor="end" fill="#1e1e1e" textLength="15.95" lengthAdjust="spacingAndGlyphs">1500</text>
<line x1="160.4" y1="245.5" x2="162.7" y2="245.5" stroke="#202020" stroke-width="1"/>
<line x1="160.4" y1="243.5" x2="162.7" y2="243.5" stroke="#202020" stroke-width="1"/>
<line x1="160.4" y1="241.5" x2="162.7" y2="241.5" stroke="#202020" stroke-width="1"/>
<line x1="160.4" y1="239.5" x2="162.7" y2="239.5" stroke="#202020" stroke-width="1"/>
<line x1="159.5" y1="237.5" x2="162.7" y2="237.5" stroke="#1c1c1c" stroke-width="1"/>
<text x="157.45" y="239.87" font-size="8" text-anchor="end" fill="#1e1e1e" textLength="15.95" lengthAdjust="spacingAndGlyphs">2000</text>
<line x1="160.4" y1="234.5" x2="162.7" y2="234.5" stroke="#202020" stroke-width="1"/>
<line x1="160.4" y1="232.5" x2="162.7" y2="232.5" stroke="#202020" stroke-width="1"/>
<line x1="160.4" y1="230.5" x2="162.7" y2="230.5" stroke="#202020" stroke-width="1"/>
<line x1="160.4" y1="228.5" x2="162.7" y2="228.5" stroke="#202020" stroke-width="1"/>
<line x1="159.5" y1="226.5" x2="162.7" y2="226.5" stroke="#1c1c1c" stroke-width="1"/>
<text x="157.45" y="229" font-size="8" text-anchor="end" fill="#1e1e1e" textLength="15.95" lengthAdjust="spacingAndGlyphs">2500</text>
<rect x="166" y="273.1" width="6.5" height="7.5" fill="#3db64b"/>
<rect x="175.95" y="273.1" width="6.5" height="7.5" fill="#2e8a6e"/>
<rect x="185.9" y="274" width="6.5" height="6.6" fill="#0d6b48"/>
<rect x="195.85" y="274.2" width="6.5" height="6.4" fill="#5cc46a"/>
<rect x="205.8" y="231.8" width="6.5" height="48.8" fill="#f7901e"/>
<rect x="215.75" y="240.6" width="6.5" height="40" fill="#427499"/>
<rect x="225.7" y="243.1" width="6.5" height="37.5" fill="#124f80"/>
<rect x="235.65" y="266.6" width="6.5" height="14" fill="#c3c0df"/>
<line x1="169.5" y1="271.5" x2="169.5" y2="273.1" stroke="#1e1e1e" stroke-width="1"/>
<path d="M168 271.5H171L169.5 272.9Z" fill="#1e1e1e"/>
<line x1="179.5" y1="271.5" x2="179.5" y2="273.1" stroke="#1e1e1e" stroke-width="1"/>
<path d="M178 271.5H181L179.5 272.9Z" fill="#1e1e1e"/>
<line x1="189.5" y1="273" x2="189.5" y2="274" stroke="#1e1e1e" stroke-width="1"/>
<path d="M188 273H191L189.5 273.9Z" fill="#1e1e1e"/>
<line x1="199.5" y1="273.2" x2="199.5" y2="274.2" stroke="#1e1e1e" stroke-width="1"/>
<path d="M198 273.2H201L199.5 274.1Z" fill="#1e1e1e"/>
<line x1="209.5" y1="231.2" x2="209.5" y2="231.8" stroke="#1e1e1e" stroke-width="1"/>
<path d="M208 231.2H211L209.5 232.1Z" fill="#1e1e1e"/>
<line x1="218.5" y1="239.8" x2="218.5" y2="240.6" stroke="#1e1e1e" stroke-width="1"/>
<path d="M217 239.8H220L218.5 240.7Z" fill="#1e1e1e"/>
<line x1="228.5" y1="241.8" x2="228.5" y2="243.1" stroke="#1e1e1e" stroke-width="1"/>
<path d="M227 241.8H230L228.5 242.9Z" fill="#1e1e1e"/>
<line x1="238.5" y1="266" x2="238.5" y2="266.6" stroke="#1e1e1e" stroke-width="1"/>
<path d="M237 266H240L238.5 266.9Z" fill="#1e1e1e"/>
<line x1="161" y1="280.5" x2="246.5" y2="280.5" stroke="#1c1c1c" stroke-width="1.2"/>
<line x1="169.5" y1="280.6" x2="169.5" y2="283.2" stroke="#1c1c1c" stroke-width="0.9"/>
<line x1="179.5" y1="280.6" x2="179.5" y2="283.2" stroke="#1c1c1c" stroke-width="0.9"/>
<line x1="189.5" y1="280.6" x2="189.5" y2="283.2" stroke="#1c1c1c" stroke-width="0.9"/>
<line x1="199.5" y1="280.6" x2="199.5" y2="283.2" stroke="#1c1c1c" stroke-width="0.9"/>
<line x1="209.5" y1="280.6" x2="209.5" y2="283.2" stroke="#1c1c1c" stroke-width="0.9"/>
<line x1="218.5" y1="280.6" x2="218.5" y2="283.2" stroke="#1c1c1c" stroke-width="0.9"/>
<line x1="228.5" y1="280.6" x2="228.5" y2="283.2" stroke="#1c1c1c" stroke-width="0.9"/>
<line x1="238.5" y1="280.6" x2="238.5" y2="283.2" stroke="#1c1c1c" stroke-width="0.9"/>
<path d="M168.5 269.6V226.5H209.5V228.5" fill="none" stroke="#262626" stroke-width="1"/>
<circle cx="182.55" cy="223" r="1.12" fill="#1e1e1e"/>
<circle cx="185.85" cy="223" r="1.12" fill="#1e1e1e"/>
<circle cx="189.15" cy="223" r="1.12" fill="#1e1e1e"/>
<circle cx="192.45" cy="223" r="1.12" fill="#1e1e1e"/>
<path d="M209.5 223.5V219.5H239.5V233.8" fill="none" stroke="#262626" stroke-width="1"/>
<circle cx="218.95" cy="215.6" r="1.12" fill="#1e1e1e"/>
<circle cx="222.25" cy="215.6" r="1.12" fill="#1e1e1e"/>
<circle cx="225.55" cy="215.6" r="1.12" fill="#1e1e1e"/>
<circle cx="228.85" cy="215.6" r="1.12" fill="#1e1e1e"/>
<path d="M209.5 228.5V226.5H218.5V238.2" fill="none" stroke="#262626" stroke-width="1"/>
<circle cx="212.25" cy="222.7" r="1.12" fill="#1e1e1e"/>
<circle cx="215.55" cy="222.7" r="1.12" fill="#1e1e1e"/>
<circle cx="218.85" cy="222.7" r="1.12" fill="#1e1e1e"/>
<circle cx="222.15" cy="222.7" r="1.12" fill="#1e1e1e"/>
<path d="M220.5 237.3V230.5H228.5V232.7" fill="none" stroke="#262626" stroke-width="1"/>
<text x="220.8" y="228.9" font-size="5.76" text-anchor="start" fill="#1e1e1e" textLength="7.2" lengthAdjust="spacingAndGlyphs">ns</text>
<path d="M229.5 240.4V237.5H238.5V264.5" fill="none" stroke="#262626" stroke-width="1"/>
<circle cx="232.15" cy="233.8" r="1.12" fill="#1e1e1e"/>
<circle cx="235.45" cy="233.8" r="1.12" fill="#1e1e1e"/>
<circle cx="238.75" cy="233.8" r="1.12" fill="#1e1e1e"/>
<circle cx="242.05" cy="233.8" r="1.12" fill="#1e1e1e"/>
<path d="M170.6 269.5H199.8" fill="none" stroke="#262626" stroke-width="1"/>
<text x="181.5" y="266.8" font-size="6.51" text-anchor="start" fill="#1e1e1e" textLength="6.9" lengthAdjust="spacingAndGlyphs">ns</text>
<text transform="translate(171.05 286.7) rotate(-90)" font-size="8.7" text-anchor="end" fill="#1e1e1e" textLength="24.6" lengthAdjust="spacingAndGlyphs">Control</text>
<text transform="translate(181 286.7) rotate(-90)" font-size="8.7" text-anchor="end" fill="#1e1e1e" textLength="27" lengthAdjust="spacingAndGlyphs">Con EVs</text>
<text transform="translate(190.95 286.7) rotate(-90)" font-size="8.7" text-anchor="end" fill="#1e1e1e" textLength="63" lengthAdjust="spacingAndGlyphs">Con EVs (+Scr miR)</text>
<text transform="translate(200.9 286.7) rotate(-90)" font-size="8.7" text-anchor="end" fill="#1e1e1e" textLength="84" lengthAdjust="spacingAndGlyphs">Con EVs (+miR10a mimic)</text>
<text transform="translate(210.85 286.7) rotate(-90)" font-size="8.7" text-anchor="end" fill="#1e1e1e" textLength="24.6" lengthAdjust="spacingAndGlyphs">Control</text>
<text transform="translate(220.8 286.7) rotate(-90)" font-size="8.7" text-anchor="end" fill="#1e1e1e" textLength="27" lengthAdjust="spacingAndGlyphs">Con EVs</text>
<text transform="translate(230.75 286.7) rotate(-90)" font-size="8.7" text-anchor="end" fill="#1e1e1e" textLength="63" lengthAdjust="spacingAndGlyphs">Con EVs (+Scr miR)</text>
<text transform="translate(240.7 286.7) rotate(-90)" font-size="8.7" text-anchor="end" fill="#1e1e1e" textLength="84" lengthAdjust="spacingAndGlyphs">Con EVs (+miR10a mimic)</text>
<line x1="205.4" y1="374.5" x2="243.8" y2="374.5" stroke="#333" stroke-width="1"/>
<text x="224.8" y="383.4" font-size="7.8" text-anchor="middle" fill="#1e1e1e" textLength="11.9" lengthAdjust="spacingAndGlyphs">LPS</text>
<text x="254.2" y="215" font-size="10.4" text-anchor="start" fill="#000" font-weight="bold" style="stroke:#000;stroke-width:0.2px">G</text>
<text transform="translate(260.2 251.6) rotate(-90)" font-size="8.4" text-anchor="middle" fill="#1e1e1e" textLength="38.5" lengthAdjust="spacingAndGlyphs">IL-6 (pg/mL)</text>
<line x1="282.5" y1="225" x2="282.5" y2="280.9" stroke="#1c1c1c" stroke-width="1.1"/>
<line x1="279.5" y1="280.5" x2="282.7" y2="280.5" stroke="#1c1c1c" stroke-width="1"/>
<text x="277.25" y="283.15" font-size="8" text-anchor="end" fill="#1e1e1e" textLength="4.3" lengthAdjust="spacingAndGlyphs">0</text>
<line x1="280.4" y1="277.5" x2="282.7" y2="277.5" stroke="#202020" stroke-width="1"/>
<line x1="280.4" y1="274.5" x2="282.7" y2="274.5" stroke="#202020" stroke-width="1"/>
<line x1="280.4" y1="272.5" x2="282.7" y2="272.5" stroke="#202020" stroke-width="1"/>
<line x1="280.4" y1="269.5" x2="282.7" y2="269.5" stroke="#202020" stroke-width="1"/>
<line x1="279.5" y1="266.5" x2="282.7" y2="266.5" stroke="#1c1c1c" stroke-width="1"/>
<text x="277.25" y="269.45" font-size="8" text-anchor="end" fill="#1e1e1e" textLength="8.25" lengthAdjust="spacingAndGlyphs">50</text>
<line x1="280.4" y1="263.5" x2="282.7" y2="263.5" stroke="#202020" stroke-width="1"/>
<line x1="280.4" y1="261.5" x2="282.7" y2="261.5" stroke="#202020" stroke-width="1"/>
<line x1="280.4" y1="258.5" x2="282.7" y2="258.5" stroke="#202020" stroke-width="1"/>
<line x1="280.4" y1="255.5" x2="282.7" y2="255.5" stroke="#202020" stroke-width="1"/>
<line x1="279.5" y1="252.5" x2="282.7" y2="252.5" stroke="#1c1c1c" stroke-width="1"/>
<text x="277.25" y="255.75" font-size="8" text-anchor="end" fill="#1e1e1e" textLength="12.2" lengthAdjust="spacingAndGlyphs">100</text>
<line x1="280.4" y1="250.5" x2="282.7" y2="250.5" stroke="#202020" stroke-width="1"/>
<line x1="280.4" y1="247.5" x2="282.7" y2="247.5" stroke="#202020" stroke-width="1"/>
<line x1="280.4" y1="244.5" x2="282.7" y2="244.5" stroke="#202020" stroke-width="1"/>
<line x1="280.4" y1="242.5" x2="282.7" y2="242.5" stroke="#202020" stroke-width="1"/>
<line x1="279.5" y1="239.5" x2="282.7" y2="239.5" stroke="#1c1c1c" stroke-width="1"/>
<text x="277.25" y="242.05" font-size="8" text-anchor="end" fill="#1e1e1e" textLength="12.2" lengthAdjust="spacingAndGlyphs">150</text>
<line x1="280.4" y1="236.5" x2="282.7" y2="236.5" stroke="#202020" stroke-width="1"/>
<line x1="280.4" y1="233.5" x2="282.7" y2="233.5" stroke="#202020" stroke-width="1"/>
<line x1="280.4" y1="231.5" x2="282.7" y2="231.5" stroke="#202020" stroke-width="1"/>
<line x1="280.4" y1="228.5" x2="282.7" y2="228.5" stroke="#202020" stroke-width="1"/>
<line x1="279.5" y1="225.5" x2="282.7" y2="225.5" stroke="#1c1c1c" stroke-width="1"/>
<text x="277.25" y="228.35" font-size="8" text-anchor="end" fill="#1e1e1e" textLength="12.2" lengthAdjust="spacingAndGlyphs">200</text>
<rect x="285.8" y="270.9" width="6.7" height="9.5" fill="#3db64b"/>
<rect x="295.87" y="272.9" width="6.7" height="7.5" fill="#2e8a6e"/>
<rect x="305.94" y="272.9" width="6.7" height="7.5" fill="#0d6b48"/>
<rect x="316.01" y="272.9" width="6.7" height="7.5" fill="#5cc46a"/>
<rect x="326.08" y="235" width="6.7" height="45.4" fill="#f7901e"/>
<rect x="336.15" y="244.75" width="6.7" height="35.65" fill="#427499"/>
<rect x="346.22" y="244.4" width="6.7" height="36" fill="#124f80"/>
<rect x="356.29" y="266" width="6.7" height="14.4" fill="#c3c0df"/>
<line x1="289.5" y1="269.3" x2="289.5" y2="270.9" stroke="#1e1e1e" stroke-width="1"/>
<path d="M288 269.3H291L289.5 270.7Z" fill="#1e1e1e"/>
<line x1="299.5" y1="271.4" x2="299.5" y2="272.9" stroke="#1e1e1e" stroke-width="1"/>
<path d="M298 271.4H301L299.5 272.7Z" fill="#1e1e1e"/>
<line x1="309.5" y1="271.4" x2="309.5" y2="272.9" stroke="#1e1e1e" stroke-width="1"/>
<path d="M308 271.4H311L309.5 272.7Z" fill="#1e1e1e"/>
<line x1="319.5" y1="271.4" x2="319.5" y2="272.9" stroke="#1e1e1e" stroke-width="1"/>
<path d="M318 271.4H321L319.5 272.7Z" fill="#1e1e1e"/>
<line x1="329.5" y1="234" x2="329.5" y2="235" stroke="#1e1e1e" stroke-width="1"/>
<path d="M328 234H331L329.5 234.9Z" fill="#1e1e1e"/>
<line x1="339.5" y1="243.6" x2="339.5" y2="244.75" stroke="#1e1e1e" stroke-width="1"/>
<path d="M338 243.6H341L339.5 244.55Z" fill="#1e1e1e"/>
<line x1="349.5" y1="243.3" x2="349.5" y2="244.4" stroke="#1e1e1e" stroke-width="1"/>
<path d="M348 243.3H351L349.5 244.2Z" fill="#1e1e1e"/>
<line x1="359.5" y1="265" x2="359.5" y2="266" stroke="#1e1e1e" stroke-width="1"/>
<path d="M358 265H361L359.5 265.9Z" fill="#1e1e1e"/>
<line x1="281" y1="280.5" x2="366" y2="280.5" stroke="#1c1c1c" stroke-width="1.2"/>
<line x1="289.5" y1="280.4" x2="289.5" y2="283" stroke="#1c1c1c" stroke-width="0.9"/>
<line x1="299.5" y1="280.4" x2="299.5" y2="283" stroke="#1c1c1c" stroke-width="0.9"/>
<line x1="309.5" y1="280.4" x2="309.5" y2="283" stroke="#1c1c1c" stroke-width="0.9"/>
<line x1="319.5" y1="280.4" x2="319.5" y2="283" stroke="#1c1c1c" stroke-width="0.9"/>
<line x1="329.5" y1="280.4" x2="329.5" y2="283" stroke="#1c1c1c" stroke-width="0.9"/>
<line x1="339.5" y1="280.4" x2="339.5" y2="283" stroke="#1c1c1c" stroke-width="0.9"/>
<line x1="349.5" y1="280.4" x2="349.5" y2="283" stroke="#1c1c1c" stroke-width="0.9"/>
<line x1="359.5" y1="280.4" x2="359.5" y2="283" stroke="#1c1c1c" stroke-width="0.9"/>
<path d="M288.5 269.4V230.5H329.5V233" fill="none" stroke="#262626" stroke-width="1"/>
<circle cx="304.95" cy="226.6" r="1.12" fill="#1e1e1e"/>
<circle cx="308.25" cy="226.6" r="1.12" fill="#1e1e1e"/>
<circle cx="311.55" cy="226.6" r="1.12" fill="#1e1e1e"/>
<circle cx="314.85" cy="226.6" r="1.12" fill="#1e1e1e"/>
<path d="M329.5 225.6V222.5H359.5V234.4" fill="none" stroke="#262626" stroke-width="1"/>
<circle cx="338.95" cy="218.8" r="1.12" fill="#1e1e1e"/>
<circle cx="342.25" cy="218.8" r="1.12" fill="#1e1e1e"/>
<circle cx="345.55" cy="218.8" r="1.12" fill="#1e1e1e"/>
<circle cx="348.85" cy="218.8" r="1.12" fill="#1e1e1e"/>
<path d="M329.5 233V230.5H339.5V241.9" fill="none" stroke="#262626" stroke-width="1"/>
<circle cx="330.65" cy="226.6" r="1.12" fill="#1e1e1e"/>
<circle cx="333.95" cy="226.6" r="1.12" fill="#1e1e1e"/>
<circle cx="337.25" cy="226.6" r="1.12" fill="#1e1e1e"/>
<circle cx="340.55" cy="226.6" r="1.12" fill="#1e1e1e"/>
<path d="M340.5 241.9V232.5H349.5V235" fill="none" stroke="#262626" stroke-width="1"/>
<text x="342.3" y="229.8" font-size="7.06" text-anchor="start" fill="#1e1e1e" textLength="6.7" lengthAdjust="spacingAndGlyphs">ns</text>
<path d="M350.5 242.5V238.5H360.5V265" fill="none" stroke="#262626" stroke-width="1"/>
<circle cx="351.65" cy="235.4" r="1.12" fill="#1e1e1e"/>
<circle cx="354.95" cy="235.4" r="1.12" fill="#1e1e1e"/>
<circle cx="358.25" cy="235.4" r="1.12" fill="#1e1e1e"/>
<circle cx="361.55" cy="235.4" r="1.12" fill="#1e1e1e"/>
<path d="M290 267.5H319.4" fill="none" stroke="#262626" stroke-width="1"/>
<text x="301" y="264.8" font-size="6.51" text-anchor="start" fill="#1e1e1e" textLength="6.9" lengthAdjust="spacingAndGlyphs">ns</text>
<text transform="translate(290.95 286.7) rotate(-90)" font-size="8.7" text-anchor="end" fill="#1e1e1e" textLength="24.6" lengthAdjust="spacingAndGlyphs">Control</text>
<text transform="translate(301.02 286.7) rotate(-90)" font-size="8.7" text-anchor="end" fill="#1e1e1e" textLength="27" lengthAdjust="spacingAndGlyphs">Con EVs</text>
<text transform="translate(311.09 286.7) rotate(-90)" font-size="8.7" text-anchor="end" fill="#1e1e1e" textLength="63" lengthAdjust="spacingAndGlyphs">Con EVs (+Scr miR)</text>
<text transform="translate(321.16 286.7) rotate(-90)" font-size="8.7" text-anchor="end" fill="#1e1e1e" textLength="84" lengthAdjust="spacingAndGlyphs">Con EVs (+miR10a mimic)</text>
<text transform="translate(331.23 286.7) rotate(-90)" font-size="8.7" text-anchor="end" fill="#1e1e1e" textLength="24.6" lengthAdjust="spacingAndGlyphs">Control</text>
<text transform="translate(341.3 286.7) rotate(-90)" font-size="8.7" text-anchor="end" fill="#1e1e1e" textLength="27" lengthAdjust="spacingAndGlyphs">Con EVs</text>
<text transform="translate(351.37 286.7) rotate(-90)" font-size="8.7" text-anchor="end" fill="#1e1e1e" textLength="63" lengthAdjust="spacingAndGlyphs">Con EVs (+Scr miR)</text>
<text transform="translate(361.44 286.7) rotate(-90)" font-size="8.7" text-anchor="end" fill="#1e1e1e" textLength="84" lengthAdjust="spacingAndGlyphs">Con EVs (+miR10a mimic)</text>
<line x1="329" y1="374.5" x2="363" y2="374.5" stroke="#333" stroke-width="1"/>
<text x="344.5" y="382.9" font-size="7.8" text-anchor="middle" fill="#1e1e1e" textLength="11.5" lengthAdjust="spacingAndGlyphs">LPS</text>
<text x="371.8" y="214.7" font-size="10.4" text-anchor="start" fill="#000" font-weight="bold" style="stroke:#000;stroke-width:0.2px">H</text>
<text transform="translate(379.6 252.65) rotate(-90)" font-size="8.4" text-anchor="middle" fill="#1e1e1e" textLength="46.2" lengthAdjust="spacingAndGlyphs">IL-1β (pg/mL)</text>
<line x1="407.5" y1="225.6" x2="407.5" y2="280.7" stroke="#1c1c1c" stroke-width="1.1"/>
<line x1="404.2" y1="280.5" x2="407.4" y2="280.5" stroke="#1c1c1c" stroke-width="1"/>
<text x="402.25" y="282.95" font-size="8" text-anchor="end" fill="#1e1e1e" textLength="4.3" lengthAdjust="spacingAndGlyphs">0</text>
<line x1="405.1" y1="278.5" x2="407.4" y2="278.5" stroke="#202020" stroke-width="1"/>
<line x1="405.1" y1="275.5" x2="407.4" y2="275.5" stroke="#202020" stroke-width="1"/>
<line x1="405.1" y1="273.5" x2="407.4" y2="273.5" stroke="#202020" stroke-width="1"/>
<line x1="405.1" y1="271.5" x2="407.4" y2="271.5" stroke="#202020" stroke-width="1"/>
<line x1="404.2" y1="269.5" x2="407.4" y2="269.5" stroke="#1c1c1c" stroke-width="1"/>
<text x="402.25" y="272.15" font-size="8" text-anchor="end" fill="#1e1e1e" textLength="12.2" lengthAdjust="spacingAndGlyphs">500</text>
<line x1="405.1" y1="267.5" x2="407.4" y2="267.5" stroke="#202020" stroke-width="1"/>
<line x1="405.1" y1="265.5" x2="407.4" y2="265.5" stroke="#202020" stroke-width="1"/>
<line x1="405.1" y1="262.5" x2="407.4" y2="262.5" stroke="#202020" stroke-width="1"/>
<line x1="405.1" y1="260.5" x2="407.4" y2="260.5" stroke="#202020" stroke-width="1"/>
<line x1="404.2" y1="258.5" x2="407.4" y2="258.5" stroke="#1c1c1c" stroke-width="1"/>
<text x="402.25" y="261.35" font-size="8" text-anchor="end" fill="#1e1e1e" textLength="16.15" lengthAdjust="spacingAndGlyphs">1000</text>
<line x1="405.1" y1="256.5" x2="407.4" y2="256.5" stroke="#202020" stroke-width="1"/>
<line x1="405.1" y1="254.5" x2="407.4" y2="254.5" stroke="#202020" stroke-width="1"/>
<line x1="405.1" y1="252.5" x2="407.4" y2="252.5" stroke="#202020" stroke-width="1"/>
<line x1="405.1" y1="249.5" x2="407.4" y2="249.5" stroke="#202020" stroke-width="1"/>
<line x1="404.2" y1="247.5" x2="407.4" y2="247.5" stroke="#1c1c1c" stroke-width="1"/>
<text x="402.25" y="250.55" font-size="8" text-anchor="end" fill="#1e1e1e" textLength="16.15" lengthAdjust="spacingAndGlyphs">1500</text>
<line x1="405.1" y1="245.5" x2="407.4" y2="245.5" stroke="#202020" stroke-width="1"/>
<line x1="405.1" y1="243.5" x2="407.4" y2="243.5" stroke="#202020" stroke-width="1"/>
<line x1="405.1" y1="241.5" x2="407.4" y2="241.5" stroke="#202020" stroke-width="1"/>
<line x1="405.1" y1="239.5" x2="407.4" y2="239.5" stroke="#202020" stroke-width="1"/>
<line x1="404.2" y1="236.5" x2="407.4" y2="236.5" stroke="#1c1c1c" stroke-width="1"/>
<text x="402.25" y="239.75" font-size="8" text-anchor="end" fill="#1e1e1e" textLength="16.15" lengthAdjust="spacingAndGlyphs">2000</text>
<line x1="405.1" y1="234.5" x2="407.4" y2="234.5" stroke="#202020" stroke-width="1"/>
<line x1="405.1" y1="232.5" x2="407.4" y2="232.5" stroke="#202020" stroke-width="1"/>
<line x1="405.1" y1="230.5" x2="407.4" y2="230.5" stroke="#202020" stroke-width="1"/>
<line x1="405.1" y1="228.5" x2="407.4" y2="228.5" stroke="#202020" stroke-width="1"/>
<line x1="404.2" y1="226.5" x2="407.4" y2="226.5" stroke="#1c1c1c" stroke-width="1"/>
<text x="402.25" y="228.95" font-size="8" text-anchor="end" fill="#1e1e1e" textLength="16.15" lengthAdjust="spacingAndGlyphs">2500</text>
<rect x="410.2" y="268.6" width="6" height="11.6" fill="#3db64b"/>
<rect x="419.32" y="268.6" width="6" height="11.6" fill="#2e8a6e"/>
<rect x="428.44" y="270.2" width="6" height="10" fill="#0d6b48"/>
<rect x="437.56" y="270" width="6" height="10.2" fill="#5cc46a"/>
<rect x="446.68" y="236" width="6" height="44.2" fill="#f7901e"/>
<rect x="455.8" y="242" width="6" height="38.2" fill="#427499"/>
<rect x="464.92" y="239.1" width="6" height="41.1" fill="#124f80"/>
<rect x="474.04" y="264" width="6" height="16.2" fill="#c3c0df"/>
<line x1="413.5" y1="267.4" x2="413.5" y2="268.6" stroke="#1e1e1e" stroke-width="1"/>
<path d="M412.2 267.4H414.8L413.5 268.4Z" fill="#1e1e1e"/>
<line x1="422.5" y1="267.4" x2="422.5" y2="268.6" stroke="#1e1e1e" stroke-width="1"/>
<path d="M421.2 267.4H423.8L422.5 268.4Z" fill="#1e1e1e"/>
<line x1="431.5" y1="269" x2="431.5" y2="270.2" stroke="#1e1e1e" stroke-width="1"/>
<path d="M430.2 269H432.8L431.5 270Z" fill="#1e1e1e"/>
<line x1="440.5" y1="268.5" x2="440.5" y2="270" stroke="#1e1e1e" stroke-width="1"/>
<path d="M439.2 268.5H441.8L440.5 269.8Z" fill="#1e1e1e"/>
<line x1="449.5" y1="234.3" x2="449.5" y2="236" stroke="#1e1e1e" stroke-width="1"/>
<path d="M448.2 234.3H450.8L449.5 235.8Z" fill="#1e1e1e"/>
<line x1="458.5" y1="239.1" x2="458.5" y2="242" stroke="#1e1e1e" stroke-width="1"/>
<path d="M457.2 239.1H459.8L458.5 241Z" fill="#1e1e1e"/>
<line x1="467.5" y1="236.3" x2="467.5" y2="239.1" stroke="#1e1e1e" stroke-width="1"/>
<path d="M466.2 236.3H468.8L467.5 238.2Z" fill="#1e1e1e"/>
<line x1="477.5" y1="263" x2="477.5" y2="264" stroke="#1e1e1e" stroke-width="1"/>
<path d="M476.2 263H478.8L477.5 263.9Z" fill="#1e1e1e"/>
<line x1="405.5" y1="280.5" x2="483.1" y2="280.5" stroke="#1c1c1c" stroke-width="1.2"/>
<line x1="413.5" y1="280.2" x2="413.5" y2="282.8" stroke="#1c1c1c" stroke-width="0.9"/>
<line x1="422.5" y1="280.2" x2="422.5" y2="282.8" stroke="#1c1c1c" stroke-width="0.9"/>
<line x1="431.5" y1="280.2" x2="431.5" y2="282.8" stroke="#1c1c1c" stroke-width="0.9"/>
<line x1="440.5" y1="280.2" x2="440.5" y2="282.8" stroke="#1c1c1c" stroke-width="0.9"/>
<line x1="449.5" y1="280.2" x2="449.5" y2="282.8" stroke="#1c1c1c" stroke-width="0.9"/>
<line x1="458.5" y1="280.2" x2="458.5" y2="282.8" stroke="#1c1c1c" stroke-width="0.9"/>
<line x1="467.5" y1="280.2" x2="467.5" y2="282.8" stroke="#1c1c1c" stroke-width="0.9"/>
<line x1="477.5" y1="280.2" x2="477.5" y2="282.8" stroke="#1c1c1c" stroke-width="0.9"/>
<path d="M411.5 265.7V230.5H449.5V232.9" fill="none" stroke="#262626" stroke-width="1"/>
<circle cx="425.75" cy="226.9" r="1.12" fill="#1e1e1e"/>
<circle cx="429.05" cy="226.9" r="1.12" fill="#1e1e1e"/>
<circle cx="432.35" cy="226.9" r="1.12" fill="#1e1e1e"/>
<circle cx="435.65" cy="226.9" r="1.12" fill="#1e1e1e"/>
<path d="M447.5 222.3V218.5H476.5V225.2" fill="none" stroke="#262626" stroke-width="1"/>
<circle cx="457.35" cy="215.1" r="1.12" fill="#1e1e1e"/>
<circle cx="460.65" cy="215.1" r="1.12" fill="#1e1e1e"/>
<circle cx="463.95" cy="215.1" r="1.12" fill="#1e1e1e"/>
<circle cx="467.25" cy="215.1" r="1.12" fill="#1e1e1e"/>
<path d="M447.5 230V227.5H458.5V236.3" fill="none" stroke="#262626" stroke-width="1"/>
<circle cx="451.65" cy="223.1" r="1.12" fill="#1e1e1e"/>
<circle cx="454.95" cy="223.1" r="1.12" fill="#1e1e1e"/>
<path d="M458.5 235.8V228.5H467.5V230" fill="none" stroke="#262626" stroke-width="1"/>
<text x="461" y="226.6" font-size="5.76" text-anchor="start" fill="#1e1e1e" textLength="6.9" lengthAdjust="spacingAndGlyphs">ns</text>
<path d="M468.5 233.8V232.5H477.5V263.2" fill="none" stroke="#262626" stroke-width="1"/>
<circle cx="470.05" cy="228.6" r="1.12" fill="#1e1e1e"/>
<circle cx="473.35" cy="228.6" r="1.12" fill="#1e1e1e"/>
<circle cx="476.65" cy="228.6" r="1.12" fill="#1e1e1e"/>
<circle cx="479.95" cy="228.6" r="1.12" fill="#1e1e1e"/>
<path d="M414 265.5H441.3" fill="none" stroke="#262626" stroke-width="1"/>
<text x="423.8" y="263.2" font-size="7.62" text-anchor="start" fill="#1e1e1e" textLength="7.3" lengthAdjust="spacingAndGlyphs">ns</text>
<text transform="translate(415 285.8) rotate(-90)" font-size="8.7" text-anchor="end" fill="#1e1e1e" textLength="25.21" lengthAdjust="spacingAndGlyphs">Control</text>
<text transform="translate(424.12 285.8) rotate(-90)" font-size="8.7" text-anchor="end" fill="#1e1e1e" textLength="27.67" lengthAdjust="spacingAndGlyphs">Con EVs</text>
<text transform="translate(433.24 285.8) rotate(-90)" font-size="8.7" text-anchor="end" fill="#1e1e1e" textLength="64.57" lengthAdjust="spacingAndGlyphs">Con EVs (+Scr miR)</text>
<text transform="translate(442.36 285.8) rotate(-90)" font-size="8.7" text-anchor="end" fill="#1e1e1e" textLength="86.1" lengthAdjust="spacingAndGlyphs">Con EVs (+miR10a mimic)</text>
<text transform="translate(451.48 285.8) rotate(-90)" font-size="8.7" text-anchor="end" fill="#1e1e1e" textLength="25.21" lengthAdjust="spacingAndGlyphs">Control</text>
<text transform="translate(460.6 285.8) rotate(-90)" font-size="8.7" text-anchor="end" fill="#1e1e1e" textLength="27.67" lengthAdjust="spacingAndGlyphs">Con EVs</text>
<text transform="translate(469.72 285.8) rotate(-90)" font-size="8.7" text-anchor="end" fill="#1e1e1e" textLength="64.57" lengthAdjust="spacingAndGlyphs">Con EVs (+Scr miR)</text>
<text transform="translate(478.84 285.8) rotate(-90)" font-size="8.7" text-anchor="end" fill="#1e1e1e" textLength="86.1" lengthAdjust="spacingAndGlyphs">Con EVs (+miR10a mimic)</text>
<line x1="447.3" y1="374.5" x2="479.7" y2="374.5" stroke="#333" stroke-width="1"/>
<text x="443.9" y="384.3" font-size="7.5" text-anchor="middle" fill="#1e1e1e" textLength="11.7" lengthAdjust="spacingAndGlyphs">LPS</text>
<text x="464.6" y="384.3" font-size="7.5" text-anchor="middle" fill="#1e1e1e" textLength="11.5" lengthAdjust="spacingAndGlyphs">LPS</text>
<line x1="408.7" y1="387.5" x2="474.8" y2="387.5" stroke="#333" stroke-width="1"/>
<text x="10.4" y="451.9" font-size="10.4" text-anchor="start" fill="#000" font-weight="bold" style="stroke:#000;stroke-width:0.2px">I</text>
<text transform="translate(18.3 513.1) rotate(-90)" font-size="8.4" text-anchor="middle" fill="#1e1e1e" textLength="66.2" lengthAdjust="spacingAndGlyphs">Permeability (% OD)</text>
<line x1="40.5" y1="486" x2="40.5" y2="541.1" stroke="#1c1c1c" stroke-width="1.1"/>
<line x1="37.3" y1="540.5" x2="40.5" y2="540.5" stroke="#1c1c1c" stroke-width="1"/>
<text x="35.55" y="543.15" font-size="7.4" text-anchor="end" fill="#1e1e1e" textLength="4.15" lengthAdjust="spacingAndGlyphs">0</text>
<line x1="38.2" y1="536.5" x2="40.5" y2="536.5" stroke="#202020" stroke-width="1"/>
<line x1="38.2" y1="533.5" x2="40.5" y2="533.5" stroke="#202020" stroke-width="1"/>
<line x1="38.2" y1="529.5" x2="40.5" y2="529.5" stroke="#202020" stroke-width="1"/>
<line x1="38.2" y1="526.5" x2="40.5" y2="526.5" stroke="#202020" stroke-width="1"/>
<line x1="37.3" y1="522.5" x2="40.5" y2="522.5" stroke="#1c1c1c" stroke-width="1"/>
<text x="35.55" y="525.12" font-size="7.4" text-anchor="end" fill="#1e1e1e" textLength="7.95" lengthAdjust="spacingAndGlyphs">50</text>
<line x1="38.2" y1="518.5" x2="40.5" y2="518.5" stroke="#202020" stroke-width="1"/>
<line x1="38.2" y1="515.5" x2="40.5" y2="515.5" stroke="#202020" stroke-width="1"/>
<line x1="38.2" y1="511.5" x2="40.5" y2="511.5" stroke="#202020" stroke-width="1"/>
<line x1="38.2" y1="508.5" x2="40.5" y2="508.5" stroke="#202020" stroke-width="1"/>
<line x1="37.3" y1="504.5" x2="40.5" y2="504.5" stroke="#1c1c1c" stroke-width="1"/>
<text x="35.55" y="507.09" font-size="7.4" text-anchor="end" fill="#1e1e1e" textLength="11.75" lengthAdjust="spacingAndGlyphs">100</text>
<line x1="38.2" y1="500.5" x2="40.5" y2="500.5" stroke="#202020" stroke-width="1"/>
<line x1="38.2" y1="497.5" x2="40.5" y2="497.5" stroke="#202020" stroke-width="1"/>
<line x1="38.2" y1="493.5" x2="40.5" y2="493.5" stroke="#202020" stroke-width="1"/>
<line x1="38.2" y1="490.5" x2="40.5" y2="490.5" stroke="#202020" stroke-width="1"/>
<line x1="37.3" y1="486.5" x2="40.5" y2="486.5" stroke="#1c1c1c" stroke-width="1"/>
<text x="35.55" y="489.06" font-size="7.4" text-anchor="end" fill="#1e1e1e" textLength="11.75" lengthAdjust="spacingAndGlyphs">150</text>
<rect x="43.9" y="531.3" width="7" height="9.3" fill="#3db64b"/>
<rect x="53.67" y="505" width="7" height="35.6" fill="#f7901e"/>
<rect x="63.44" y="504.6" width="7" height="36" fill="#427499"/>
<rect x="73.21" y="502.8" width="7" height="37.8" fill="#124f80"/>
<rect x="82.98" y="503" width="7" height="37.6" fill="#88a8c2"/>
<rect x="92.75" y="524.3" width="7" height="16.3" fill="#c4122f"/>
<rect x="102.52" y="525" width="7" height="15.6" fill="#b66a28"/>
<rect x="112.29" y="515" width="7" height="25.6" fill="#c3c0df"/>
<line x1="47.5" y1="529.4" x2="47.5" y2="531.3" stroke="#1e1e1e" stroke-width="1"/>
<path d="M46 529.4H49L47.5 531.1Z" fill="#1e1e1e"/>
<line x1="57.5" y1="504" x2="57.5" y2="505" stroke="#1e1e1e" stroke-width="1"/>
<path d="M56 504H59L57.5 504.9Z" fill="#1e1e1e"/>
<line x1="66.5" y1="503" x2="66.5" y2="504.6" stroke="#1e1e1e" stroke-width="1"/>
<path d="M65 503H68L66.5 504.4Z" fill="#1e1e1e"/>
<line x1="76.5" y1="501.5" x2="76.5" y2="502.8" stroke="#1e1e1e" stroke-width="1"/>
<path d="M75 501.5H78L76.5 502.6Z" fill="#1e1e1e"/>
<line x1="86.5" y1="501.5" x2="86.5" y2="503" stroke="#1e1e1e" stroke-width="1"/>
<path d="M85 501.5H88L86.5 502.8Z" fill="#1e1e1e"/>
<line x1="96.5" y1="521.5" x2="96.5" y2="524.3" stroke="#1e1e1e" stroke-width="1"/>
<path d="M95 521.5H98L96.5 523.4Z" fill="#1e1e1e"/>
<line x1="106.5" y1="521.2" x2="106.5" y2="525" stroke="#1e1e1e" stroke-width="1"/>
<path d="M105 521.2H108L106.5 523.1Z" fill="#1e1e1e"/>
<line x1="115.5" y1="513.6" x2="115.5" y2="515" stroke="#1e1e1e" stroke-width="1"/>
<path d="M114 513.6H117L115.5 514.8Z" fill="#1e1e1e"/>
<line x1="39" y1="540.5" x2="120.4" y2="540.5" stroke="#1c1c1c" stroke-width="1.2"/>
<line x1="47.5" y1="540.6" x2="47.5" y2="543.2" stroke="#1c1c1c" stroke-width="0.9"/>
<line x1="57.5" y1="540.6" x2="57.5" y2="543.2" stroke="#1c1c1c" stroke-width="0.9"/>
<line x1="66.5" y1="540.6" x2="66.5" y2="543.2" stroke="#1c1c1c" stroke-width="0.9"/>
<line x1="76.5" y1="540.6" x2="76.5" y2="543.2" stroke="#1c1c1c" stroke-width="0.9"/>
<line x1="86.5" y1="540.6" x2="86.5" y2="543.2" stroke="#1c1c1c" stroke-width="0.9"/>
<line x1="96.5" y1="540.6" x2="96.5" y2="543.2" stroke="#1c1c1c" stroke-width="0.9"/>
<line x1="106.5" y1="540.6" x2="106.5" y2="543.2" stroke="#1c1c1c" stroke-width="0.9"/>
<line x1="115.5" y1="540.6" x2="115.5" y2="543.2" stroke="#1c1c1c" stroke-width="0.9"/>
<path d="M56.5 487V483.5H115.5V503" fill="none" stroke="#262626" stroke-width="1"/>
<circle cx="79.55" cy="479.5" r="1.12" fill="#1e1e1e"/>
<circle cx="82.85" cy="479.5" r="1.12" fill="#1e1e1e"/>
<circle cx="86.15" cy="479.5" r="1.12" fill="#1e1e1e"/>
<circle cx="89.45" cy="479.5" r="1.12" fill="#1e1e1e"/>
<path d="M56.5 493V489.5H96.5V521.5" fill="none" stroke="#262626" stroke-width="1"/>
<circle cx="71.85" cy="485.7" r="1.12" fill="#1e1e1e"/>
<circle cx="75.15" cy="485.7" r="1.12" fill="#1e1e1e"/>
<circle cx="78.45" cy="485.7" r="1.12" fill="#1e1e1e"/>
<circle cx="81.75" cy="485.7" r="1.12" fill="#1e1e1e"/>
<path d="M47.5 528V499.5H57.5V502.3" fill="none" stroke="#262626" stroke-width="1"/>
<circle cx="45.05" cy="495.4" r="1.12" fill="#1e1e1e"/>
<circle cx="48.35" cy="495.4" r="1.12" fill="#1e1e1e"/>
<circle cx="51.65" cy="495.4" r="1.12" fill="#1e1e1e"/>
<circle cx="54.95" cy="495.4" r="1.12" fill="#1e1e1e"/>
<path d="M57.5 503V500.5H67.5V503" fill="none" stroke="#262626" stroke-width="1"/>
<text x="59.2" y="497.4" font-size="8.55" text-anchor="start" fill="#1e1e1e" textLength="7" lengthAdjust="spacingAndGlyphs">ns</text>
<path d="M67.5 501.2V498.5H76.5V501.2" fill="none" stroke="#262626" stroke-width="1"/>
<text x="69.2" y="497" font-size="8.18" text-anchor="start" fill="#1e1e1e" textLength="7" lengthAdjust="spacingAndGlyphs">ns</text>
<path d="M77.5 501.2V498.5H86.5V501.2" fill="none" stroke="#262626" stroke-width="1"/>
<text x="79.2" y="497" font-size="8.18" text-anchor="start" fill="#1e1e1e" textLength="7" lengthAdjust="spacingAndGlyphs">ns</text>
<path d="M96.5 520V516.5H106.5V520" fill="none" stroke="#262626" stroke-width="1"/>
<text x="97.2" y="514.6" font-size="7.06" text-anchor="start" fill="#1e1e1e" textLength="6.2" lengthAdjust="spacingAndGlyphs">ns</text>
<path d="M106.5 512.3V509.5H116.5V513.6" fill="none" stroke="#262626" stroke-width="1"/>
<circle cx="104.15" cy="505" r="1.12" fill="#1e1e1e"/>
<circle cx="107.45" cy="505" r="1.12" fill="#1e1e1e"/>
<circle cx="110.75" cy="505" r="1.12" fill="#1e1e1e"/>
<circle cx="114.05" cy="505" r="1.12" fill="#1e1e1e"/>
<text transform="translate(49.2 546.5) rotate(-90)" font-size="8.7" text-anchor="end" fill="#1e1e1e" textLength="24.97" lengthAdjust="spacingAndGlyphs">Control</text>
<text transform="translate(58.97 546.5) rotate(-90)" font-size="8.7" text-anchor="end" fill="#1e1e1e" textLength="24.97" lengthAdjust="spacingAndGlyphs">Control</text>
<text transform="translate(68.74 546.5) rotate(-90)" font-size="8.7" text-anchor="end" fill="#1e1e1e" textLength="27.4" lengthAdjust="spacingAndGlyphs">Con EVs</text>
<text transform="translate(78.51 546.5) rotate(-90)" font-size="8.7" text-anchor="end" fill="#1e1e1e" textLength="63.94" lengthAdjust="spacingAndGlyphs">Con EVs (+Scr miR)</text>
<text transform="translate(88.28 546.5) rotate(-90)" font-size="8.7" text-anchor="end" fill="#1e1e1e" textLength="80.18" lengthAdjust="spacingAndGlyphs">Con EVs (+Anti-miR10a)</text>
<text transform="translate(98.05 546.5) rotate(-90)" font-size="8.7" text-anchor="end" fill="#1e1e1e" textLength="29.64" lengthAdjust="spacingAndGlyphs">FVIIa EVs</text>
<text transform="translate(107.82 546.5) rotate(-90)" font-size="8.7" text-anchor="end" fill="#1e1e1e" textLength="65.97" lengthAdjust="spacingAndGlyphs">FVIIa EVs (+Scr miR)</text>
<text transform="translate(117.59 546.5) rotate(-90)" font-size="8.7" text-anchor="end" fill="#1e1e1e" textLength="81.71" lengthAdjust="spacingAndGlyphs">FVIIa EVs (+Anti-miR10a)</text>
<line x1="56" y1="630.5" x2="118.8" y2="630.5" stroke="#333" stroke-width="1"/>
<text x="88.6" y="639.4" font-size="7.8" text-anchor="middle" fill="#1e1e1e" textLength="11.5" lengthAdjust="spacingAndGlyphs">LPS</text>
<text x="189.6" y="452" font-size="10.4" text-anchor="start" fill="#000" font-weight="bold" style="stroke:#000;stroke-width:0.2px">J</text>
<text transform="translate(198.6 502) rotate(-90)" font-size="8.4" text-anchor="middle" fill="#1e1e1e" textLength="66.7" lengthAdjust="spacingAndGlyphs">Permeability (% OD)</text>
<line x1="221.5" y1="474" x2="221.5" y2="529.4" stroke="#1c1c1c" stroke-width="1.1"/>
<line x1="218.1" y1="528.5" x2="221.3" y2="528.5" stroke="#1c1c1c" stroke-width="1"/>
<text x="216.65" y="531.45" font-size="7.4" text-anchor="end" fill="#1e1e1e" textLength="4.15" lengthAdjust="spacingAndGlyphs">0</text>
<line x1="219" y1="525.5" x2="221.3" y2="525.5" stroke="#202020" stroke-width="1"/>
<line x1="219" y1="521.5" x2="221.3" y2="521.5" stroke="#202020" stroke-width="1"/>
<line x1="219" y1="517.5" x2="221.3" y2="517.5" stroke="#202020" stroke-width="1"/>
<line x1="219" y1="514.5" x2="221.3" y2="514.5" stroke="#202020" stroke-width="1"/>
<line x1="218.1" y1="510.5" x2="221.3" y2="510.5" stroke="#1c1c1c" stroke-width="1"/>
<text x="216.65" y="513.28" font-size="7.4" text-anchor="end" fill="#1e1e1e" textLength="7.95" lengthAdjust="spacingAndGlyphs">50</text>
<line x1="219" y1="507.5" x2="221.3" y2="507.5" stroke="#202020" stroke-width="1"/>
<line x1="219" y1="503.5" x2="221.3" y2="503.5" stroke="#202020" stroke-width="1"/>
<line x1="219" y1="499.5" x2="221.3" y2="499.5" stroke="#202020" stroke-width="1"/>
<line x1="219" y1="496.5" x2="221.3" y2="496.5" stroke="#202020" stroke-width="1"/>
<line x1="218.1" y1="492.5" x2="221.3" y2="492.5" stroke="#1c1c1c" stroke-width="1"/>
<text x="216.65" y="495.11" font-size="7.4" text-anchor="end" fill="#1e1e1e" textLength="11.75" lengthAdjust="spacingAndGlyphs">100</text>
<line x1="219" y1="488.5" x2="221.3" y2="488.5" stroke="#202020" stroke-width="1"/>
<line x1="219" y1="485.5" x2="221.3" y2="485.5" stroke="#202020" stroke-width="1"/>
<line x1="219" y1="481.5" x2="221.3" y2="481.5" stroke="#202020" stroke-width="1"/>
<line x1="219" y1="478.5" x2="221.3" y2="478.5" stroke="#202020" stroke-width="1"/>
<line x1="218.1" y1="474.5" x2="221.3" y2="474.5" stroke="#1c1c1c" stroke-width="1"/>
<text x="216.65" y="476.94" font-size="7.4" text-anchor="end" fill="#1e1e1e" textLength="11.75" lengthAdjust="spacingAndGlyphs">150</text>
<rect x="225" y="516.9" width="6.6" height="12" fill="#3db64b"/>
<rect x="234.86" y="517.25" width="6.6" height="11.65" fill="#2e8a6e"/>
<rect x="244.72" y="517.25" width="6.6" height="11.65" fill="#0d6b48"/>
<rect x="254.58" y="517.9" width="6.6" height="11" fill="#5cc46a"/>
<rect x="264.44" y="492.9" width="6.6" height="36" fill="#f7901e"/>
<rect x="274.3" y="493.6" width="6.6" height="35.3" fill="#427499"/>
<rect x="284.16" y="492" width="6.6" height="36.9" fill="#124f80"/>
<rect x="294.02" y="512.5" width="6.6" height="16.4" fill="#c3c0df"/>
<line x1="228.5" y1="515.9" x2="228.5" y2="516.9" stroke="#1e1e1e" stroke-width="1"/>
<path d="M227 515.9H230L228.5 516.8Z" fill="#1e1e1e"/>
<line x1="238.5" y1="515.6" x2="238.5" y2="517.25" stroke="#1e1e1e" stroke-width="1"/>
<path d="M237 515.6H240L238.5 517.05Z" fill="#1e1e1e"/>
<line x1="248.5" y1="515.6" x2="248.5" y2="517.25" stroke="#1e1e1e" stroke-width="1"/>
<path d="M247 515.6H250L248.5 517.05Z" fill="#1e1e1e"/>
<line x1="257.5" y1="516.2" x2="257.5" y2="517.9" stroke="#1e1e1e" stroke-width="1"/>
<path d="M256 516.2H259L257.5 517.7Z" fill="#1e1e1e"/>
<line x1="267.5" y1="492.3" x2="267.5" y2="492.9" stroke="#1e1e1e" stroke-width="1"/>
<path d="M266 492.3H269L267.5 493.2Z" fill="#1e1e1e"/>
<line x1="277.5" y1="491.5" x2="277.5" y2="493.6" stroke="#1e1e1e" stroke-width="1"/>
<path d="M276 491.5H279L277.5 493.4Z" fill="#1e1e1e"/>
<line x1="287.5" y1="490" x2="287.5" y2="492" stroke="#1e1e1e" stroke-width="1"/>
<path d="M286 490H289L287.5 491.8Z" fill="#1e1e1e"/>
<line x1="297.5" y1="511.5" x2="297.5" y2="512.5" stroke="#1e1e1e" stroke-width="1"/>
<path d="M296 511.5H299L297.5 512.4Z" fill="#1e1e1e"/>
<line x1="219.5" y1="528.5" x2="303.7" y2="528.5" stroke="#1c1c1c" stroke-width="1.2"/>
<line x1="228.5" y1="528.9" x2="228.5" y2="531.5" stroke="#1c1c1c" stroke-width="0.9"/>
<line x1="238.5" y1="528.9" x2="238.5" y2="531.5" stroke="#1c1c1c" stroke-width="0.9"/>
<line x1="248.5" y1="528.9" x2="248.5" y2="531.5" stroke="#1c1c1c" stroke-width="0.9"/>
<line x1="257.5" y1="528.9" x2="257.5" y2="531.5" stroke="#1c1c1c" stroke-width="0.9"/>
<line x1="267.5" y1="528.9" x2="267.5" y2="531.5" stroke="#1c1c1c" stroke-width="0.9"/>
<line x1="277.5" y1="528.9" x2="277.5" y2="531.5" stroke="#1c1c1c" stroke-width="0.9"/>
<line x1="287.5" y1="528.9" x2="287.5" y2="531.5" stroke="#1c1c1c" stroke-width="0.9"/>
<line x1="297.5" y1="528.9" x2="297.5" y2="531.5" stroke="#1c1c1c" stroke-width="0.9"/>
<path d="M226.5 515V488.5H267.5V490.6" fill="none" stroke="#262626" stroke-width="1"/>
<circle cx="241.95" cy="485.6" r="1.12" fill="#1e1e1e"/>
<circle cx="245.25" cy="485.6" r="1.12" fill="#1e1e1e"/>
<circle cx="248.55" cy="485.6" r="1.12" fill="#1e1e1e"/>
<circle cx="251.85" cy="485.6" r="1.12" fill="#1e1e1e"/>
<path d="M267.5 478.8V468.5H297.5V470.9" fill="none" stroke="#262626" stroke-width="1"/>
<circle cx="277.75" cy="465.6" r="1.12" fill="#1e1e1e"/>
<circle cx="281.05" cy="465.6" r="1.12" fill="#1e1e1e"/>
<circle cx="284.35" cy="465.6" r="1.12" fill="#1e1e1e"/>
<circle cx="287.65" cy="465.6" r="1.12" fill="#1e1e1e"/>
<path d="M287.5 478.3V476.5H297.5V509.6" fill="none" stroke="#262626" stroke-width="1"/>
<circle cx="287.55" cy="473.8" r="1.12" fill="#1e1e1e"/>
<circle cx="290.85" cy="473.8" r="1.12" fill="#1e1e1e"/>
<circle cx="294.15" cy="473.8" r="1.12" fill="#1e1e1e"/>
<circle cx="297.45" cy="473.8" r="1.12" fill="#1e1e1e"/>
<path d="M267.5 490.4V485.5H287.5V490.2" fill="none" stroke="#262626" stroke-width="1"/>
<line x1="277.5" y1="485.9" x2="277.5" y2="490.4" stroke="#262626" stroke-width="0.9"/>
<text x="269.3" y="484.1" font-size="6.88" text-anchor="start" fill="#1e1e1e" textLength="6.9" lengthAdjust="spacingAndGlyphs">ns</text>
<text x="279.9" y="484.1" font-size="6.88" text-anchor="start" fill="#1e1e1e" textLength="6.6" lengthAdjust="spacingAndGlyphs">ns</text>
<path d="M228.1 513.5H256.3" fill="none" stroke="#262626" stroke-width="1"/>
<text x="240" y="511.9" font-size="7.06" text-anchor="start" fill="#1e1e1e" textLength="6.9" lengthAdjust="spacingAndGlyphs">ns</text>
<text transform="translate(230.1 533.7) rotate(-90)" font-size="8.7" text-anchor="end" fill="#1e1e1e" textLength="25.21" lengthAdjust="spacingAndGlyphs">Control</text>
<text transform="translate(239.96 533.7) rotate(-90)" font-size="8.7" text-anchor="end" fill="#1e1e1e" textLength="27.67" lengthAdjust="spacingAndGlyphs">Con EVs</text>
<text transform="translate(249.82 533.7) rotate(-90)" font-size="8.7" text-anchor="end" fill="#1e1e1e" textLength="64.57" lengthAdjust="spacingAndGlyphs">Con EVs (+Scr miR)</text>
<text transform="translate(259.68 533.7) rotate(-90)" font-size="8.7" text-anchor="end" fill="#1e1e1e" textLength="86.1" lengthAdjust="spacingAndGlyphs">Con EVs (+miR10a mimic)</text>
<text transform="translate(269.54 533.7) rotate(-90)" font-size="8.7" text-anchor="end" fill="#1e1e1e" textLength="25.21" lengthAdjust="spacingAndGlyphs">Control</text>
<text transform="translate(279.4 533.7) rotate(-90)" font-size="8.7" text-anchor="end" fill="#1e1e1e" textLength="27.67" lengthAdjust="spacingAndGlyphs">Con EVs</text>
<text transform="translate(289.26 533.7) rotate(-90)" font-size="8.7" text-anchor="end" fill="#1e1e1e" textLength="64.57" lengthAdjust="spacingAndGlyphs">Con EVs (+Scr miR)</text>
<text transform="translate(299.12 533.7) rotate(-90)" font-size="8.7" text-anchor="end" fill="#1e1e1e" textLength="86.1" lengthAdjust="spacingAndGlyphs">Con EVs (+miR10a mimic)</text>
<line x1="263" y1="620.5" x2="301.2" y2="620.5" stroke="#333" stroke-width="1"/>
<text x="282.7" y="628.8" font-size="7.8" text-anchor="middle" fill="#1e1e1e" textLength="11.6" lengthAdjust="spacingAndGlyphs">LPS</text>
<text x="371" y="452.3" font-size="10.4" text-anchor="start" fill="#000" font-weight="bold" style="stroke:#000;stroke-width:0.2px">K</text>
<text transform="translate(396.7 479.2) rotate(-90)" font-size="8.7" text-anchor="start" fill="#1e1e1e" textLength="25" lengthAdjust="spacingAndGlyphs">Control</text>
<text transform="translate(409.7 479.2) rotate(-90)" font-size="8.7" text-anchor="start" fill="#1e1e1e" textLength="25.2" lengthAdjust="spacingAndGlyphs">Control</text>
<text transform="translate(423.1 479.2) rotate(-90)" font-size="8.7" text-anchor="start" fill="#1e1e1e" textLength="65.4" lengthAdjust="spacingAndGlyphs">Con EVs (+ Scr miR)</text>
<text transform="translate(435.6 479.2) rotate(-90)" font-size="8.7" text-anchor="start" fill="#1e1e1e" textLength="81.9" lengthAdjust="spacingAndGlyphs">Con EVs (+ Anti-miR10a)</text>
<text transform="translate(448.4 479.2) rotate(-90)" font-size="8.7" text-anchor="start" fill="#1e1e1e" textLength="68.2" lengthAdjust="spacingAndGlyphs">FVIIa EVs (+ Scr miR)</text>
<text transform="translate(462.8 479.2) rotate(-90)" font-size="8.7" text-anchor="start" fill="#1e1e1e" textLength="83.6" lengthAdjust="spacingAndGlyphs">FVIIa EVs (+ Anti-miR10a)</text>
<text transform="translate(475.6 479.2) rotate(-90)" font-size="8.7" text-anchor="start" fill="#1e1e1e" textLength="87.6" lengthAdjust="spacingAndGlyphs">Con EVs (+ miR10a mimic)</text>
<defs><filter id="bl" x="-30%" y="-60%" width="160%" height="220%"><feGaussianBlur stdDeviation="0.75"/></filter><filter id="bl2" x="-30%" y="-60%" width="160%" height="220%"><feGaussianBlur stdDeviation="0.72"/></filter><linearGradient id="g1" x1="0" y1="0" x2="0" y2="1"><stop offset="0" stop-color="#e2e2e2"/><stop offset="0.5" stop-color="#ececec"/><stop offset="1" stop-color="#e6e6e6"/></linearGradient><linearGradient id="g2" x1="0" y1="0" x2="0" y2="1"><stop offset="0" stop-color="#d2d2d2"/><stop offset="0.35" stop-color="#dcdcdc"/><stop offset="1" stop-color="#e4e4e4"/></linearGradient></defs>
<rect x="384.7" y="482.6" width="100.2" height="21.2" fill="url(#g1)" stroke="#444" stroke-width="1.3"/>
<rect x="384.7" y="507.3" width="100.2" height="21.4" fill="url(#g2)" stroke="#444" stroke-width="1.3"/>
<g filter="url(#bl2)">
<rect x="391.7" y="488.6" width="9.2" height="11.6" fill="#000" opacity="0.12"/>
<rect x="391.6" y="488.6" width="9.4" height="2.8" rx="1.2" fill="#000" opacity="1"/>
<rect x="391.6" y="492.5" width="9.4" height="2.5" rx="1.1" fill="#000" opacity="0.92"/>
<rect x="391.8" y="496.6" width="9.0" height="3.8" rx="1.4" fill="#000" opacity="0.55"/>
<rect x="404.1" y="488.6" width="9.2" height="11.6" fill="#000" opacity="0.05"/>
<rect x="404" y="488.6" width="9.4" height="2.8" rx="1.2" fill="#000" opacity="0.36"/>
<rect x="404" y="492.5" width="9.4" height="2.5" rx="1.1" fill="#000" opacity="0.3"/>
<rect x="404.2" y="496.6" width="9.0" height="3.8" rx="1.4" fill="#000" opacity="0.16"/>
<rect x="417.3" y="488.6" width="9.2" height="11.6" fill="#000" opacity="0.05"/>
<rect x="417.2" y="488.6" width="9.4" height="2.8" rx="1.2" fill="#000" opacity="0.72"/>
<rect x="417.2" y="492.5" width="9.4" height="2.5" rx="1.1" fill="#000" opacity="0.32"/>
<rect x="417.4" y="496.6" width="9.0" height="3.8" rx="1.4" fill="#000" opacity="0.17"/>
<rect x="430.3" y="488.6" width="9.2" height="11.6" fill="#000" opacity="0.04"/>
<rect x="430.2" y="488.6" width="9.4" height="2.8" rx="1.2" fill="#000" opacity="0.1"/>
<rect x="430.2" y="492.5" width="9.4" height="2.5" rx="1.1" fill="#000" opacity="0.2"/>
<rect x="430.4" y="496.6" width="9.0" height="3.8" rx="1.4" fill="#000" opacity="0.1"/>
<rect x="443" y="488.6" width="9.2" height="11.6" fill="#000" opacity="0.1"/>
<rect x="442.9" y="488.6" width="9.4" height="2.8" rx="1.2" fill="#000" opacity="0.95"/>
<rect x="442.9" y="492.5" width="9.4" height="2.5" rx="1.1" fill="#000" opacity="0.9"/>
<rect x="443.1" y="496.6" width="9.0" height="3.8" rx="1.4" fill="#000" opacity="0.4"/>
<rect x="455.8" y="488.6" width="9.2" height="11.6" fill="#000" opacity="0.05"/>
<rect x="455.7" y="488.6" width="9.4" height="2.8" rx="1.2" fill="#000" opacity="0.32"/>
<rect x="455.7" y="492.5" width="9.4" height="2.5" rx="1.1" fill="#000" opacity="0.3"/>
<rect x="455.9" y="496.6" width="9.0" height="3.8" rx="1.4" fill="#000" opacity="0.15"/>
<rect x="468.7" y="488.6" width="9.2" height="11.6" fill="#000" opacity="0.12"/>
<rect x="468.6" y="488.6" width="9.4" height="2.8" rx="1.2" fill="#000" opacity="1"/>
<rect x="468.6" y="492.5" width="9.4" height="2.5" rx="1.1" fill="#000" opacity="1"/>
<rect x="468.8" y="496.6" width="9.0" height="3.8" rx="1.4" fill="#000" opacity="0.55"/>
</g>
<g filter="url(#bl)">
<rect x="390.1" y="517" width="12.4" height="3.7" rx="1.4" fill="#111" opacity="0.9"/>
<rect x="402.5" y="516.5" width="12.4" height="3.7" rx="1.4" fill="#111" opacity="0.9"/>
<rect x="415.7" y="516.5" width="12.4" height="3.7" rx="1.4" fill="#111" opacity="0.9"/>
<rect x="428.7" y="516.5" width="12.4" height="3.7" rx="1.4" fill="#111" opacity="0.9"/>
<rect x="441.4" y="516.5" width="12.4" height="3.7" rx="1.4" fill="#111" opacity="0.9"/>
<rect x="454.2" y="516.5" width="12.4" height="3.7" rx="1.4" fill="#111" opacity="0.9"/>
<rect x="467.1" y="516.5" width="12.4" height="3.7" rx="1.4" fill="#111" opacity="0.9"/>
</g>
<text x="486.8" y="495.2" font-size="8.2" text-anchor="start" fill="#1e1e1e" textLength="17.4" lengthAdjust="spacingAndGlyphs">ZO-1</text>
<text x="487.3" y="519.6" font-size="8.2" text-anchor="start" fill="#1e1e1e" textLength="26" lengthAdjust="spacingAndGlyphs">GAPDH</text>
<text transform="translate(379.3 571.4) rotate(-90)" font-size="8.6" text-anchor="middle" fill="#1e1e1e" textLength="53.5" lengthAdjust="spacingAndGlyphs">ZO-1 levels (fold</text>
<text transform="translate(390.4 571) rotate(-90)" font-size="8.6" text-anchor="middle" fill="#1e1e1e" textLength="68.3" lengthAdjust="spacingAndGlyphs">change over control)</text>
<line x1="412.5" y1="544" x2="412.5" y2="598.1" stroke="#1c1c1c" stroke-width="1.1"/>
<line x1="409.1" y1="597.5" x2="412.3" y2="597.5" stroke="#1c1c1c" stroke-width="1"/>
<text x="407.35" y="600.18" font-size="7.5" text-anchor="end" fill="#1e1e1e" textLength="10.22" lengthAdjust="spacingAndGlyphs">0.0</text>
<line x1="410" y1="594.5" x2="412.3" y2="594.5" stroke="#202020" stroke-width="1"/>
<line x1="410" y1="590.5" x2="412.3" y2="590.5" stroke="#202020" stroke-width="1"/>
<line x1="410" y1="587.5" x2="412.3" y2="587.5" stroke="#202020" stroke-width="1"/>
<line x1="410" y1="583.5" x2="412.3" y2="583.5" stroke="#202020" stroke-width="1"/>
<line x1="409.1" y1="580.5" x2="412.3" y2="580.5" stroke="#1c1c1c" stroke-width="1"/>
<text x="407.35" y="582.58" font-size="7.5" text-anchor="end" fill="#1e1e1e" textLength="10.22" lengthAdjust="spacingAndGlyphs">0.5</text>
<line x1="410" y1="576.5" x2="412.3" y2="576.5" stroke="#202020" stroke-width="1"/>
<line x1="410" y1="572.5" x2="412.3" y2="572.5" stroke="#202020" stroke-width="1"/>
<line x1="410" y1="569.5" x2="412.3" y2="569.5" stroke="#202020" stroke-width="1"/>
<line x1="410" y1="565.5" x2="412.3" y2="565.5" stroke="#202020" stroke-width="1"/>
<line x1="409.1" y1="562.5" x2="412.3" y2="562.5" stroke="#1c1c1c" stroke-width="1"/>
<text x="407.35" y="564.98" font-size="7.5" text-anchor="end" fill="#1e1e1e" textLength="10.22" lengthAdjust="spacingAndGlyphs">1.0</text>
<line x1="410" y1="558.5" x2="412.3" y2="558.5" stroke="#202020" stroke-width="1"/>
<line x1="410" y1="555.5" x2="412.3" y2="555.5" stroke="#202020" stroke-width="1"/>
<line x1="410" y1="551.5" x2="412.3" y2="551.5" stroke="#202020" stroke-width="1"/>
<line x1="410" y1="548.5" x2="412.3" y2="548.5" stroke="#202020" stroke-width="1"/>
<line x1="409.1" y1="544.5" x2="412.3" y2="544.5" stroke="#1c1c1c" stroke-width="1"/>
<text x="407.35" y="547.38" font-size="7.5" text-anchor="end" fill="#1e1e1e" textLength="10.22" lengthAdjust="spacingAndGlyphs">1.5</text>
<rect x="415" y="562.2" width="7" height="35.4" fill="#3db64b"/>
<rect x="424.75" y="590" width="7" height="7.6" fill="#f7901e"/>
<rect x="434.5" y="586.9" width="7" height="10.7" fill="#124f80"/>
<rect x="444.25" y="593.1" width="7" height="4.5" fill="#88a8c2"/>
<rect x="454" y="575" width="7" height="22.6" fill="#b66a28"/>
<rect x="463.75" y="593.1" width="7" height="4.5" fill="#e08898"/>
<rect x="473.5" y="572.5" width="7" height="25.1" fill="#5e3a18"/>
<line x1="428.5" y1="588.1" x2="428.5" y2="590" stroke="#1e1e1e" stroke-width="1"/>
<path d="M427 588.1H430L428.5 589.8Z" fill="#1e1e1e"/>
<line x1="438.5" y1="584.4" x2="438.5" y2="586.9" stroke="#1e1e1e" stroke-width="1"/>
<path d="M437 584.4H440L438.5 586.3Z" fill="#1e1e1e"/>
<line x1="447.5" y1="590.6" x2="447.5" y2="593.1" stroke="#1e1e1e" stroke-width="1"/>
<path d="M446 590.6H449L447.5 592.5Z" fill="#1e1e1e"/>
<line x1="457.5" y1="567.5" x2="457.5" y2="575" stroke="#1e1e1e" stroke-width="1"/>
<path d="M456 567.5H459L457.5 569.4Z" fill="#1e1e1e"/>
<line x1="467.5" y1="591.2" x2="467.5" y2="593.1" stroke="#1e1e1e" stroke-width="1"/>
<path d="M466 591.2H469L467.5 592.9Z" fill="#1e1e1e"/>
<line x1="476.5" y1="563.1" x2="476.5" y2="572.5" stroke="#1e1e1e" stroke-width="1"/>
<path d="M475 563.1H478L476.5 565Z" fill="#1e1e1e"/>
<line x1="409" y1="597.5" x2="485" y2="597.5" stroke="#1c1c1c" stroke-width="1.2"/>
<line x1="418.5" y1="597.6" x2="418.5" y2="600.2" stroke="#1c1c1c" stroke-width="0.9"/>
<line x1="428.5" y1="597.6" x2="428.5" y2="600.2" stroke="#1c1c1c" stroke-width="0.9"/>
<line x1="438.5" y1="597.6" x2="438.5" y2="600.2" stroke="#1c1c1c" stroke-width="0.9"/>
<line x1="447.5" y1="597.6" x2="447.5" y2="600.2" stroke="#1c1c1c" stroke-width="0.9"/>
<line x1="457.5" y1="597.6" x2="457.5" y2="600.2" stroke="#1c1c1c" stroke-width="0.9"/>
<line x1="467.5" y1="597.6" x2="467.5" y2="600.2" stroke="#1c1c1c" stroke-width="0.9"/>
<line x1="476.5" y1="597.6" x2="476.5" y2="600.2" stroke="#1c1c1c" stroke-width="0.9"/>
<path d="M418.5 552.9V541.5H476.5V543.8" fill="none" stroke="#262626" stroke-width="1"/>
<text x="443.1" y="539.4" font-size="7.06" text-anchor="start" fill="#1e1e1e" textLength="6.9" lengthAdjust="spacingAndGlyphs">ns</text>
<path d="M429.5 550.3V547.5H476.5V561.9" fill="none" stroke="#262626" stroke-width="1"/>
<circle cx="451.15" cy="544.4" r="1.12" fill="#1e1e1e"/>
<circle cx="454.45" cy="544.4" r="1.12" fill="#1e1e1e"/>
<path d="M429.5 555.5V553.5H456.5V565.6" fill="none" stroke="#262626" stroke-width="1"/>
<circle cx="442.3" cy="549.8" r="1.12" fill="#1e1e1e"/>
<path d="M418.5 561V559.5H428.5V587.8" fill="none" stroke="#262626" stroke-width="1"/>
<circle cx="417.35" cy="555.5" r="1.12" fill="#1e1e1e"/>
<circle cx="420.65" cy="555.5" r="1.12" fill="#1e1e1e"/>
<circle cx="423.95" cy="555.5" r="1.12" fill="#1e1e1e"/>
<circle cx="427.25" cy="555.5" r="1.12" fill="#1e1e1e"/>
<path d="M430.5 586.3V581.5H448.5V590.6" fill="none" stroke="#262626" stroke-width="1"/>
<line x1="438.5" y1="581.5" x2="438.5" y2="584.4" stroke="#262626" stroke-width="0.9"/>
<text x="431" y="580" font-size="6.88" text-anchor="start" fill="#1e1e1e" textLength="6.5" lengthAdjust="spacingAndGlyphs">ns</text>
<text x="440" y="580" font-size="6.88" text-anchor="start" fill="#1e1e1e" textLength="6.9" lengthAdjust="spacingAndGlyphs">ns</text>
<path d="M458.5 566.3V564.5H467.5V591.3" fill="none" stroke="#262626" stroke-width="1"/>
<circle cx="461.15" cy="560.6" r="1.12" fill="#1e1e1e"/>
<circle cx="464.45" cy="560.6" r="1.12" fill="#1e1e1e"/>
<text transform="translate(420.3 604) rotate(-90)" font-size="8.7" text-anchor="end" fill="#1e1e1e" textLength="24.3" lengthAdjust="spacingAndGlyphs">Control</text>
<text transform="translate(430.05 604) rotate(-90)" font-size="8.7" text-anchor="end" fill="#1e1e1e" textLength="24.3" lengthAdjust="spacingAndGlyphs">Control</text>
<text transform="translate(439.8 604) rotate(-90)" font-size="8.7" text-anchor="end" fill="#1e1e1e" textLength="63.7" lengthAdjust="spacingAndGlyphs">Con EVs (+Scr miR)</text>
<text transform="translate(449.55 604) rotate(-90)" font-size="8.7" text-anchor="end" fill="#1e1e1e" textLength="79.3" lengthAdjust="spacingAndGlyphs">Con EVs (+Anti-miR10a)</text>
<text transform="translate(459.3 604) rotate(-90)" font-size="8.7" text-anchor="end" fill="#1e1e1e" textLength="65.4" lengthAdjust="spacingAndGlyphs">FVIIa EVs (+Scr miR)</text>
<text transform="translate(469.05 604) rotate(-90)" font-size="8.7" text-anchor="end" fill="#1e1e1e" textLength="81.3" lengthAdjust="spacingAndGlyphs">FVIIa EVs (+Anti-miR10a)</text>
<text transform="translate(478.8 604) rotate(-90)" font-size="8.7" text-anchor="end" fill="#1e1e1e" textLength="84.8" lengthAdjust="spacingAndGlyphs">Con EVs (+miR10a mimic)</text>
<line x1="426" y1="691.9" x2="481.3" y2="691.9" stroke="#555" stroke-width="1.6"/>
<text x="454" y="700" font-size="7.8" text-anchor="middle" fill="#1e1e1e" textLength="11.3" lengthAdjust="spacingAndGlyphs">LPS</text>
<rect x="0.5" y="0.5" width="519" height="706" fill="none" stroke="#000" stroke-width="1.2"/>
</svg>
</div>
</body></html>
